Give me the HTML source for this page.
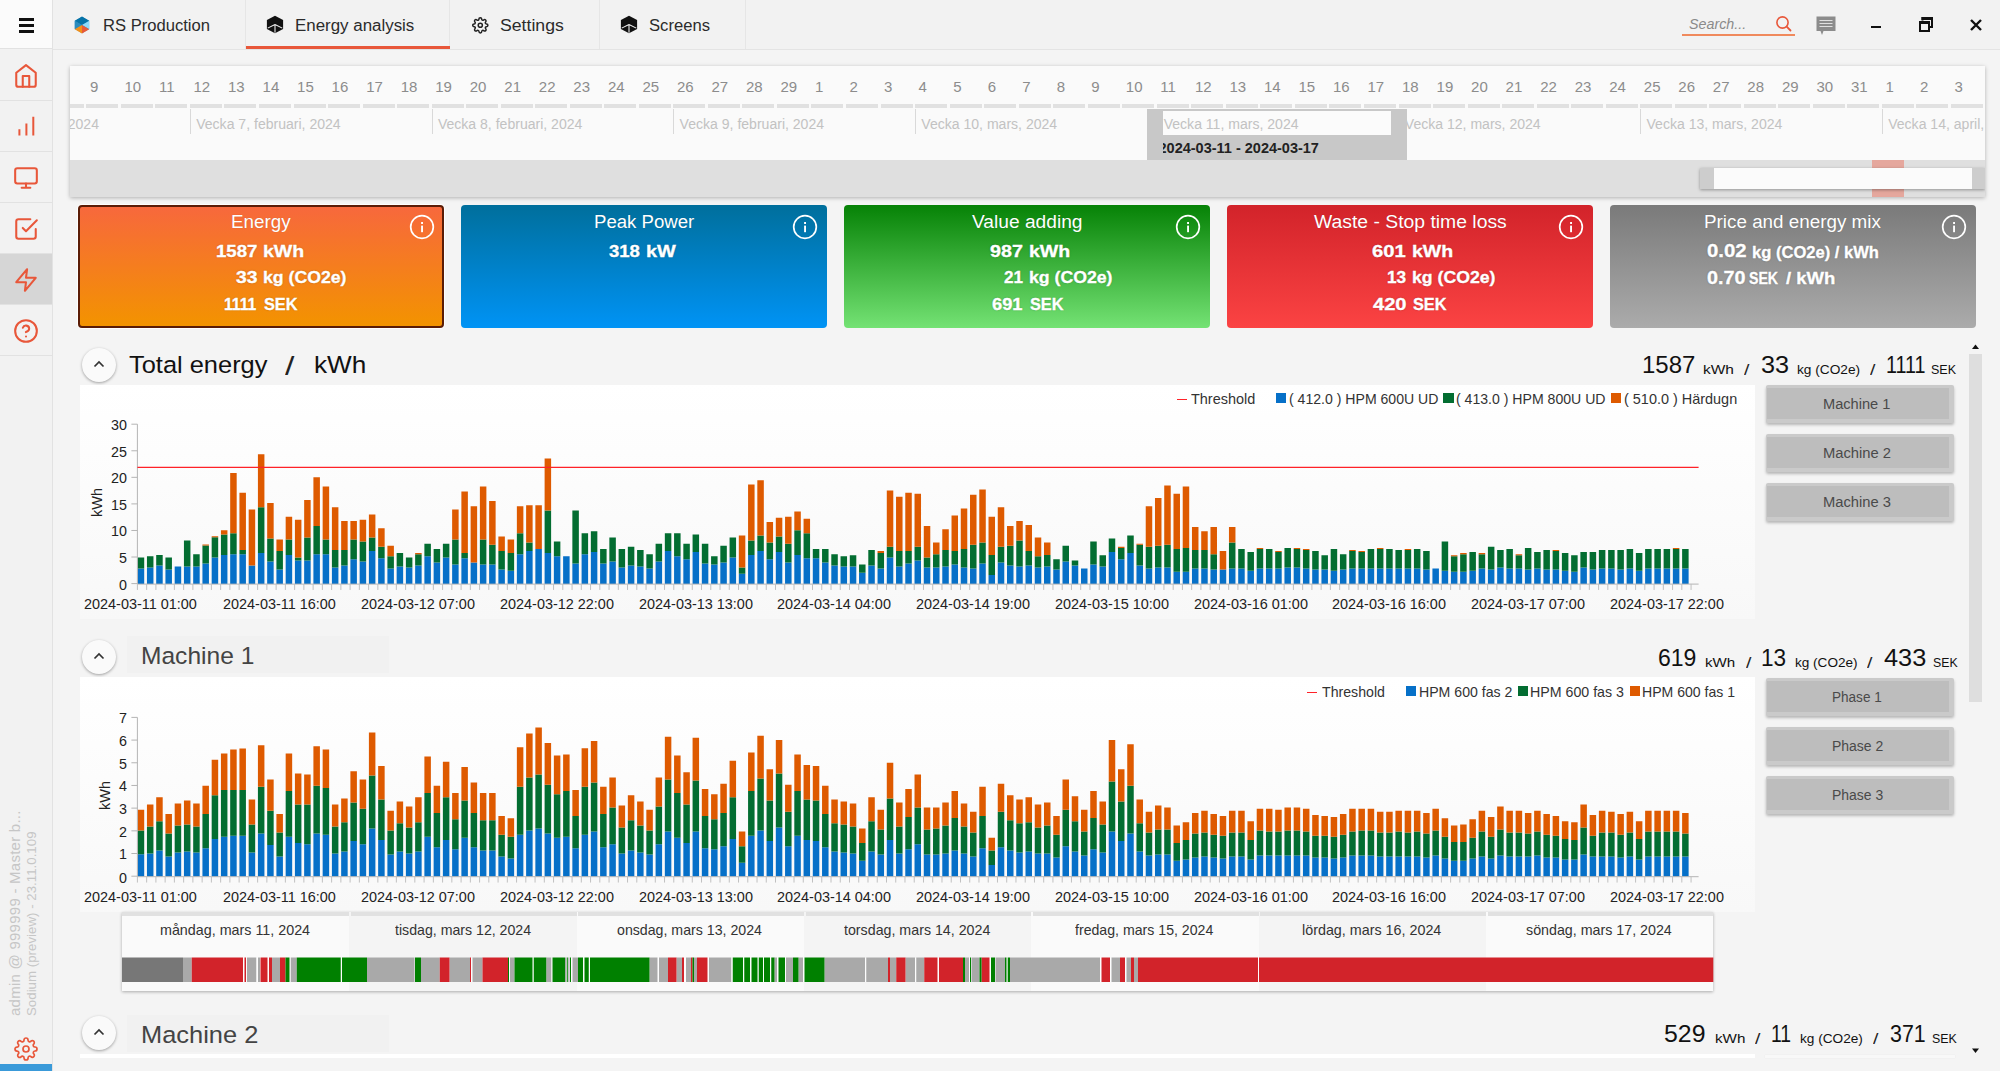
<!DOCTYPE html>
<html lang="sv"><head><meta charset="utf-8"><title>RS Production - Energy analysis</title>
<style>
*{box-sizing:border-box;margin:0;padding:0}
html,body{width:2000px;height:1071px;overflow:hidden}
body{background:#f4f4f4;font-family:"Liberation Sans",sans-serif;color:#222;position:relative}
.abs{position:absolute}
.t{position:absolute;white-space:nowrap;line-height:1}
.c{transform:translateX(-50%)}
.r{transform:translateX(-100%)}
svg{position:absolute;overflow:visible}
svg text{font-family:"Liberation Sans",sans-serif}
.tab{position:absolute;top:0;height:49px;border-right:1px solid #e6e6e6}
.tab .t{top:16px;font-size:17.5px;color:#222}
.sb{position:absolute;left:0;width:52px;height:51px;border-bottom:1px solid #e2e2e2}
.card{position:absolute;top:205px;height:123px;border-radius:4px;color:#fff}
.card .ti{position:absolute;left:0;right:0;top:7px;text-align:center;font-size:19.5px;line-height:1;white-space:nowrap}
.card .v{position:absolute;font-size:17.5px;font-weight:bold;line-height:1;white-space:nowrap;text-shadow:0 0 2px rgba(0,0,0,.35)}
.btn{position:absolute;left:1765.6px;width:188.4px;height:38px;background:#bdbdbd;border:5px solid #cacaca;border-top-width:3px;border-bottom-width:4px;border-left-width:1px;box-shadow:0 2px 3px rgba(0,0,0,.25);text-align:center;font-size:15.5px;color:#444;line-height:29px;border-radius:2px}
.panel{position:absolute;left:80px;width:1675px;background:linear-gradient(#ffffff,#f8f8f8)}
.circ{position:absolute;width:34px;height:34px;border-radius:17px;background:#fafafa;box-shadow:0 1px 3px rgba(0,0,0,.35)}
.big{font-size:27px}
.unit{font-size:15.5px}
</style></head><body>
<div class="abs" style="left:0;top:0;width:2000px;height:50px;background:#f2f2f2;border-bottom:1px solid #e4e4e4"></div>
<div class="tab" style="left:53px;width:193px"></div>
<div class="tab" style="left:246px;width:204px"></div>
<div class="tab" style="left:450px;width:150px"></div>
<div class="tab" style="left:600px;width:146px"></div>
<div class="abs" style="left:246px;top:46px;width:204px;height:3.4px;background:#e8573a"></div>
<svg style="left:74px;top:16px" width="16" height="18" viewBox="-8 -9 16 18"><path d="M0 -8.2 L7.1 -4.1 L7.1 4.1 L0 8.2 L-7.1 4.1 L-7.1 -4.1Z" fill="#2b8cbe"/><path d="M0 -8.4 L7.3 -4.2 L0 0.1 L-7.3 -4.2Z" fill="#0673a8"/><path d="M-7.3 -4.2 L0 0.1 L-7.3 4.2Z" fill="#2b8cbe"/><path d="M7.3 -4.2 L0 0.1 L7.3 4.2Z" fill="#8edaf9"/><path d="M0 0.1 L-7.3 4.2 L0 8.4Z" fill="#f39019"/><path d="M0 0.1 L7.3 4.2 L0 8.4Z" fill="#e95a38"/></svg>
<div class="t" style="left:102.87px;top:18.36px;font-size:16px;color:#2b2b2b;transform-origin:0 0;transform:scaleX(1.0369);">RS Production</div>
<svg style="left:265.7px;top:15.399999999999999px" width="18" height="19" viewBox="-9 -9.5 18 19"><path d="M0 -8.7 L8.1 -4.4 L8.1 4.4 L0 8.7 L-8.1 4.4 L-8.1 -4.4 Z" fill="#111"/><path d="M0 0 L0 8.2 M0 0 L-7.3 3.6 M0 0 L7.3 3.6" stroke="#f2f2f2" stroke-width="1.05" fill="none"/></svg>
<div class="t" style="left:294.95px;top:18.36px;font-size:16px;color:#2b2b2b;transform-origin:0 0;transform:scaleX(1.0565);">Energy analysis</div>
<svg style="left:471.5px;top:16.7px" width="16.6" height="16.6" viewBox="0 0 24 24" fill="none" stroke="#222" stroke-width="2.17" stroke-linecap="round" stroke-linejoin="round"><circle cx="12" cy="12" r="3"/><path d="M19.4 15a1.65 1.65 0 0 0 .33 1.82l.06.06a2 2 0 0 1 0 2.83 2 2 0 0 1-2.83 0l-.06-.06a1.65 1.65 0 0 0-1.82-.33 1.65 1.65 0 0 0-1 1.51V21a2 2 0 0 1-2 2 2 2 0 0 1-2-2v-.09A1.65 1.65 0 0 0 9 19.4a1.65 1.65 0 0 0-1.82.33l-.06.06a2 2 0 0 1-2.83 0 2 2 0 0 1 0-2.83l.06-.06a1.65 1.65 0 0 0 .33-1.82 1.65 1.65 0 0 0-1.51-1H3a2 2 0 0 1-2-2 2 2 0 0 1 2-2h.09A1.65 1.65 0 0 0 4.6 9a1.65 1.65 0 0 0-.33-1.82l-.06-.06a2 2 0 0 1 0-2.83 2 2 0 0 1 2.83 0l.06.06a1.65 1.65 0 0 0 1.82.33H9a1.65 1.65 0 0 0 1-1.51V3a2 2 0 0 1 2-2 2 2 0 0 1 2 2v.09a1.65 1.65 0 0 0 1 1.51 1.65 1.65 0 0 0 1.82-.33l.06-.06a2 2 0 0 1 2.83 0 2 2 0 0 1 0 2.83l-.06.06a1.65 1.65 0 0 0-.33 1.82V9a1.65 1.65 0 0 0 1.51 1H21a2 2 0 0 1 2 2 2 2 0 0 1-2 2h-.09a1.65 1.65 0 0 0-1.51 1z"/></svg>
<div class="t" style="left:500.01px;top:18.36px;font-size:16px;color:#2b2b2b;transform-origin:0 0;transform:scaleX(1.1040);">Settings</div>
<svg style="left:619.7px;top:15.399999999999999px" width="18" height="19" viewBox="-9 -9.5 18 19"><path d="M0 -8.7 L8.1 -4.4 L8.1 4.4 L0 8.7 L-8.1 4.4 L-8.1 -4.4 Z" fill="#111"/><path d="M0 0 L0 8.2 M0 0 L-7.3 3.6 M0 0 L7.3 3.6" stroke="#f2f2f2" stroke-width="1.05" fill="none"/></svg>
<div class="t" style="left:649.25px;top:18.36px;font-size:16px;color:#2b2b2b;transform-origin:0 0;transform:scaleX(1.0383);">Screens</div>
<div class="t" style="left:1689.11px;top:15.70px;font-size:15px;font-style:italic;color:#8a8a8a;transform-origin:0 0;transform:scaleX(0.9511);">Search...</div>
<div class="abs" style="left:1682px;top:34px;width:113px;height:1.5px;background:#f08a5d"></div>
<svg style="left:1775px;top:15px" width="18" height="18" viewBox="0 0 18 18"><circle cx="7.5" cy="7.5" r="5.6" fill="none" stroke="#e8573a" stroke-width="1.6"/><path d="M11.7 11.7 L15.5 15.5" stroke="#e8573a" stroke-width="1.8" stroke-linecap="round"/></svg>
<svg style="left:1816px;top:16px" width="20" height="20" viewBox="0 0 20 20"><path d="M0.5 0.5 H19.5 V15 H7.5 L6 19 L4.5 15 H0.5Z" fill="#8c8c8c"/><path d="M3.5 4.5 H16.5 M3.5 7.5 H16.5 M3.5 10.5 H16.5" stroke="#e0e0e0" stroke-width="1"/></svg>
<div class="abs" style="left:1870.5px;top:26px;width:10.5px;height:2.1px;background:#111"></div>
<svg style="left:1919px;top:17px" width="14" height="15" viewBox="0 0 14 15"><path d="M3.5 3.5 V1 H13 V10 H10.5" fill="none" stroke="#111" stroke-width="2"/><rect x="1" y="5" width="9" height="9" fill="none" stroke="#111" stroke-width="2"/><rect x="0" y="4" width="11" height="3" fill="#111"/><rect x="2.5" y="0" width="11.5" height="3" fill="#111"/></svg>
<svg style="left:1970px;top:19px" width="12" height="12" viewBox="0 0 12 12"><path d="M1 1 L11 11 M11 1 L1 11" stroke="#111" stroke-width="2.4"/></svg>
<div class="abs" style="left:0;top:0;width:53px;height:1071px;background:#f2f2f2;border-right:1px solid #e2e2e2"></div>
<div class="abs" style="left:0;top:0;width:52px;height:49px;background:#fbfbfb;border-bottom:1px solid #e2e2e2"></div>
<div class="abs" style="left:19px;top:18px;width:15px;height:3px;background:#111"></div>
<div class="abs" style="left:19px;top:24px;width:15px;height:3px;background:#111"></div>
<div class="abs" style="left:19px;top:30px;width:15px;height:3px;background:#111"></div>
<div class="sb" style="top:50px;"></div>
<div class="sb" style="top:101px;"></div>
<div class="sb" style="top:152px;"></div>
<div class="sb" style="top:203px;"></div>
<div class="sb" style="top:254px;background:#d6d6d6;"></div>
<div class="sb" style="top:305px;"></div>
<svg style="left:13px;top:62.5px" width="26" height="26" viewBox="0 0 24 24" fill="none" stroke="#e8573a" stroke-width="1.9" stroke-linecap="round" stroke-linejoin="round"><path d="M3 9l9-7 9 7v11a2 2 0 0 1-2 2H5a2 2 0 0 1-2-2z"/><path d="M9 22V12h6v10"/></svg>
<svg style="left:0;top:0" width="52" height="160" viewBox="0 0 52 160"><path d="M19.4 135.6V129.2M26.4 135.6V123.6M33.3 135.6V116.8" stroke="#e8573a" stroke-width="2" fill="none"/></svg>
<svg style="left:13px;top:164.5px" width="26" height="26" viewBox="0 0 24 24" fill="none" stroke="#e8573a" stroke-width="1.9" stroke-linecap="round" stroke-linejoin="round"><rect x="2" y="3" width="20" height="14" rx="2"/><path d="M8 21h8M12 17v4"/></svg>
<svg style="left:13px;top:215.5px" width="26" height="26" viewBox="0 0 24 24" fill="none" stroke="#e8573a" stroke-width="1.9" stroke-linecap="round" stroke-linejoin="round"><path d="M9 11l3 3L22 4"/><path d="M21 12v7a2 2 0 0 1-2 2H5a2 2 0 0 1-2-2V5a2 2 0 0 1 2-2h11"/></svg>
<svg style="left:13px;top:266.5px" width="26" height="26" viewBox="0 0 24 24" fill="none" stroke="#e8573a" stroke-width="1.9" stroke-linecap="round" stroke-linejoin="round"><path d="M13 2L3 14h9l-1 8 10-12h-9l1-8z"/></svg>
<svg style="left:13px;top:317.5px" width="26" height="26" viewBox="0 0 24 24" fill="none" stroke="#e8573a" stroke-width="1.9" stroke-linecap="round" stroke-linejoin="round"><circle cx="12" cy="12" r="10"/><path d="M9.09 9a3 3 0 0 1 5.83 1c0 2-3 3-3 3"/><path d="M12 17h.01"/></svg>
<div class="t" style="left:6.5px;top:1016px;font-size:15px;color:#c6c6c6;transform-origin:0 0;transform:rotate(-90deg);letter-spacing:.25px">admin @ 999999 - Master b...</div>
<div class="t" style="left:24.5px;top:1016px;font-size:13.3px;color:#c6c6c6;transform-origin:0 0;transform:rotate(-90deg)">Sodium (preview) - 23.11.0.109</div>
<svg style="left:14px;top:1037px" width="24" height="24" viewBox="0 0 24 24" fill="none" stroke="#e8573a" stroke-width="1.70" stroke-linecap="round" stroke-linejoin="round"><circle cx="12" cy="12" r="3"/><path d="M19.4 15a1.65 1.65 0 0 0 .33 1.82l.06.06a2 2 0 0 1 0 2.83 2 2 0 0 1-2.83 0l-.06-.06a1.65 1.65 0 0 0-1.82-.33 1.65 1.65 0 0 0-1 1.51V21a2 2 0 0 1-2 2 2 2 0 0 1-2-2v-.09A1.65 1.65 0 0 0 9 19.4a1.65 1.65 0 0 0-1.82.33l-.06.06a2 2 0 0 1-2.83 0 2 2 0 0 1 0-2.83l.06-.06a1.65 1.65 0 0 0 .33-1.82 1.65 1.65 0 0 0-1.51-1H3a2 2 0 0 1-2-2 2 2 0 0 1 2-2h.09A1.65 1.65 0 0 0 4.6 9a1.65 1.65 0 0 0-.33-1.82l-.06-.06a2 2 0 0 1 0-2.83 2 2 0 0 1 2.83 0l.06.06a1.65 1.65 0 0 0 1.82.33H9a1.65 1.65 0 0 0 1-1.51V3a2 2 0 0 1 2-2 2 2 0 0 1 2 2v.09a1.65 1.65 0 0 0 1 1.51 1.65 1.65 0 0 0 1.82-.33l.06-.06a2 2 0 0 1 2.83 0 2 2 0 0 1 0 2.83l-.06.06a1.65 1.65 0 0 0-.33 1.82V9a1.65 1.65 0 0 0 1.51 1H21a2 2 0 0 1 2 2 2 2 0 0 1-2 2h-.09a1.65 1.65 0 0 0-1.51 1z"/></svg>
<div class="abs" style="left:0;top:1064px;width:52px;height:7px;background:#3a9ad9"></div>
<div class="abs" style="left:70px;top:66px;width:1915px;height:131px;background:#fafafa;box-shadow:0 1px 4px rgba(0,0,0,.28);overflow:hidden">
<div class="t" style="left:19.9px;top:13px;font-size:15px;color:#8c8c8c">9</div>
<div class="abs" style="left:16.3px;top:38.3px;width:32px;height:4px;background:#e1e1e1"></div>
<div class="t" style="left:54.4px;top:13px;font-size:15px;color:#8c8c8c">10</div>
<div class="abs" style="left:50.8px;top:38.3px;width:32px;height:4px;background:#e1e1e1"></div>
<div class="t" style="left:89.0px;top:13px;font-size:15px;color:#8c8c8c">11</div>
<div class="abs" style="left:85.4px;top:38.3px;width:32px;height:4px;background:#e1e1e1"></div>
<div class="t" style="left:123.5px;top:13px;font-size:15px;color:#8c8c8c">12</div>
<div class="abs" style="left:119.9px;top:38.3px;width:32px;height:4px;background:#e1e1e1"></div>
<div class="t" style="left:158.0px;top:13px;font-size:15px;color:#8c8c8c">13</div>
<div class="abs" style="left:154.4px;top:38.3px;width:32px;height:4px;background:#e1e1e1"></div>
<div class="t" style="left:192.6px;top:13px;font-size:15px;color:#8c8c8c">14</div>
<div class="abs" style="left:189.0px;top:38.3px;width:32px;height:4px;background:#e1e1e1"></div>
<div class="t" style="left:227.1px;top:13px;font-size:15px;color:#8c8c8c">15</div>
<div class="abs" style="left:223.5px;top:38.3px;width:32px;height:4px;background:#e1e1e1"></div>
<div class="t" style="left:261.6px;top:13px;font-size:15px;color:#8c8c8c">16</div>
<div class="abs" style="left:258.0px;top:38.3px;width:32px;height:4px;background:#e1e1e1"></div>
<div class="t" style="left:296.2px;top:13px;font-size:15px;color:#8c8c8c">17</div>
<div class="abs" style="left:292.6px;top:38.3px;width:32px;height:4px;background:#e1e1e1"></div>
<div class="t" style="left:330.7px;top:13px;font-size:15px;color:#8c8c8c">18</div>
<div class="abs" style="left:327.1px;top:38.3px;width:32px;height:4px;background:#e1e1e1"></div>
<div class="t" style="left:365.2px;top:13px;font-size:15px;color:#8c8c8c">19</div>
<div class="abs" style="left:361.6px;top:38.3px;width:32px;height:4px;background:#e1e1e1"></div>
<div class="t" style="left:399.7px;top:13px;font-size:15px;color:#8c8c8c">20</div>
<div class="abs" style="left:396.1px;top:38.3px;width:32px;height:4px;background:#e1e1e1"></div>
<div class="t" style="left:434.3px;top:13px;font-size:15px;color:#8c8c8c">21</div>
<div class="abs" style="left:430.7px;top:38.3px;width:32px;height:4px;background:#e1e1e1"></div>
<div class="t" style="left:468.8px;top:13px;font-size:15px;color:#8c8c8c">22</div>
<div class="abs" style="left:465.2px;top:38.3px;width:32px;height:4px;background:#e1e1e1"></div>
<div class="t" style="left:503.3px;top:13px;font-size:15px;color:#8c8c8c">23</div>
<div class="abs" style="left:499.7px;top:38.3px;width:32px;height:4px;background:#e1e1e1"></div>
<div class="t" style="left:537.9px;top:13px;font-size:15px;color:#8c8c8c">24</div>
<div class="abs" style="left:534.3px;top:38.3px;width:32px;height:4px;background:#e1e1e1"></div>
<div class="t" style="left:572.4px;top:13px;font-size:15px;color:#8c8c8c">25</div>
<div class="abs" style="left:568.8px;top:38.3px;width:32px;height:4px;background:#e1e1e1"></div>
<div class="t" style="left:606.9px;top:13px;font-size:15px;color:#8c8c8c">26</div>
<div class="abs" style="left:603.3px;top:38.3px;width:32px;height:4px;background:#e1e1e1"></div>
<div class="t" style="left:641.4px;top:13px;font-size:15px;color:#8c8c8c">27</div>
<div class="abs" style="left:637.8px;top:38.3px;width:32px;height:4px;background:#e1e1e1"></div>
<div class="t" style="left:676.0px;top:13px;font-size:15px;color:#8c8c8c">28</div>
<div class="abs" style="left:672.4px;top:38.3px;width:32px;height:4px;background:#e1e1e1"></div>
<div class="t" style="left:710.5px;top:13px;font-size:15px;color:#8c8c8c">29</div>
<div class="abs" style="left:706.9px;top:38.3px;width:32px;height:4px;background:#e1e1e1"></div>
<div class="t" style="left:745.0px;top:13px;font-size:15px;color:#8c8c8c">1</div>
<div class="abs" style="left:741.4px;top:38.3px;width:32px;height:4px;background:#e1e1e1"></div>
<div class="t" style="left:779.6px;top:13px;font-size:15px;color:#8c8c8c">2</div>
<div class="abs" style="left:776.0px;top:38.3px;width:32px;height:4px;background:#e1e1e1"></div>
<div class="t" style="left:814.1px;top:13px;font-size:15px;color:#8c8c8c">3</div>
<div class="abs" style="left:810.5px;top:38.3px;width:32px;height:4px;background:#e1e1e1"></div>
<div class="t" style="left:848.6px;top:13px;font-size:15px;color:#8c8c8c">4</div>
<div class="abs" style="left:845.0px;top:38.3px;width:32px;height:4px;background:#e1e1e1"></div>
<div class="t" style="left:883.2px;top:13px;font-size:15px;color:#8c8c8c">5</div>
<div class="abs" style="left:879.6px;top:38.3px;width:32px;height:4px;background:#e1e1e1"></div>
<div class="t" style="left:917.7px;top:13px;font-size:15px;color:#8c8c8c">6</div>
<div class="abs" style="left:914.1px;top:38.3px;width:32px;height:4px;background:#e1e1e1"></div>
<div class="t" style="left:952.2px;top:13px;font-size:15px;color:#8c8c8c">7</div>
<div class="abs" style="left:948.6px;top:38.3px;width:32px;height:4px;background:#e1e1e1"></div>
<div class="t" style="left:986.8px;top:13px;font-size:15px;color:#8c8c8c">8</div>
<div class="abs" style="left:983.2px;top:38.3px;width:32px;height:4px;background:#e1e1e1"></div>
<div class="t" style="left:1021.3px;top:13px;font-size:15px;color:#8c8c8c">9</div>
<div class="abs" style="left:1017.7px;top:38.3px;width:32px;height:4px;background:#e1e1e1"></div>
<div class="t" style="left:1055.8px;top:13px;font-size:15px;color:#8c8c8c">10</div>
<div class="abs" style="left:1052.2px;top:38.3px;width:32px;height:4px;background:#e1e1e1"></div>
<div class="t" style="left:1090.3px;top:13px;font-size:15px;color:#8c8c8c">11</div>
<div class="abs" style="left:1086.7px;top:38.3px;width:32px;height:4px;background:#e1e1e1"></div>
<div class="t" style="left:1124.9px;top:13px;font-size:15px;color:#8c8c8c">12</div>
<div class="abs" style="left:1121.3px;top:38.3px;width:32px;height:4px;background:#e1e1e1"></div>
<div class="t" style="left:1159.4px;top:13px;font-size:15px;color:#8c8c8c">13</div>
<div class="abs" style="left:1155.8px;top:38.3px;width:32px;height:4px;background:#e1e1e1"></div>
<div class="t" style="left:1193.9px;top:13px;font-size:15px;color:#8c8c8c">14</div>
<div class="abs" style="left:1190.3px;top:38.3px;width:32px;height:4px;background:#e1e1e1"></div>
<div class="t" style="left:1228.5px;top:13px;font-size:15px;color:#8c8c8c">15</div>
<div class="abs" style="left:1224.9px;top:38.3px;width:32px;height:4px;background:#e1e1e1"></div>
<div class="t" style="left:1263.0px;top:13px;font-size:15px;color:#8c8c8c">16</div>
<div class="abs" style="left:1259.4px;top:38.3px;width:32px;height:4px;background:#e1e1e1"></div>
<div class="t" style="left:1297.5px;top:13px;font-size:15px;color:#8c8c8c">17</div>
<div class="abs" style="left:1293.9px;top:38.3px;width:32px;height:4px;background:#e1e1e1"></div>
<div class="t" style="left:1332.0px;top:13px;font-size:15px;color:#8c8c8c">18</div>
<div class="abs" style="left:1328.5px;top:38.3px;width:32px;height:4px;background:#e1e1e1"></div>
<div class="t" style="left:1366.6px;top:13px;font-size:15px;color:#8c8c8c">19</div>
<div class="abs" style="left:1363.0px;top:38.3px;width:32px;height:4px;background:#e1e1e1"></div>
<div class="t" style="left:1401.1px;top:13px;font-size:15px;color:#8c8c8c">20</div>
<div class="abs" style="left:1397.5px;top:38.3px;width:32px;height:4px;background:#e1e1e1"></div>
<div class="t" style="left:1435.6px;top:13px;font-size:15px;color:#8c8c8c">21</div>
<div class="abs" style="left:1432.0px;top:38.3px;width:32px;height:4px;background:#e1e1e1"></div>
<div class="t" style="left:1470.2px;top:13px;font-size:15px;color:#8c8c8c">22</div>
<div class="abs" style="left:1466.6px;top:38.3px;width:32px;height:4px;background:#e1e1e1"></div>
<div class="t" style="left:1504.7px;top:13px;font-size:15px;color:#8c8c8c">23</div>
<div class="abs" style="left:1501.1px;top:38.3px;width:32px;height:4px;background:#e1e1e1"></div>
<div class="t" style="left:1539.2px;top:13px;font-size:15px;color:#8c8c8c">24</div>
<div class="abs" style="left:1535.6px;top:38.3px;width:32px;height:4px;background:#e1e1e1"></div>
<div class="t" style="left:1573.8px;top:13px;font-size:15px;color:#8c8c8c">25</div>
<div class="abs" style="left:1570.2px;top:38.3px;width:32px;height:4px;background:#e1e1e1"></div>
<div class="t" style="left:1608.3px;top:13px;font-size:15px;color:#8c8c8c">26</div>
<div class="abs" style="left:1604.7px;top:38.3px;width:32px;height:4px;background:#e1e1e1"></div>
<div class="t" style="left:1642.8px;top:13px;font-size:15px;color:#8c8c8c">27</div>
<div class="abs" style="left:1639.2px;top:38.3px;width:32px;height:4px;background:#e1e1e1"></div>
<div class="t" style="left:1677.3px;top:13px;font-size:15px;color:#8c8c8c">28</div>
<div class="abs" style="left:1673.8px;top:38.3px;width:32px;height:4px;background:#e1e1e1"></div>
<div class="t" style="left:1711.9px;top:13px;font-size:15px;color:#8c8c8c">29</div>
<div class="abs" style="left:1708.3px;top:38.3px;width:32px;height:4px;background:#e1e1e1"></div>
<div class="t" style="left:1746.4px;top:13px;font-size:15px;color:#8c8c8c">30</div>
<div class="abs" style="left:1742.8px;top:38.3px;width:32px;height:4px;background:#e1e1e1"></div>
<div class="t" style="left:1780.9px;top:13px;font-size:15px;color:#8c8c8c">31</div>
<div class="abs" style="left:1777.3px;top:38.3px;width:32px;height:4px;background:#e1e1e1"></div>
<div class="t" style="left:1815.5px;top:13px;font-size:15px;color:#8c8c8c">1</div>
<div class="abs" style="left:1811.9px;top:38.3px;width:32px;height:4px;background:#e1e1e1"></div>
<div class="t" style="left:1850.0px;top:13px;font-size:15px;color:#8c8c8c">2</div>
<div class="abs" style="left:1846.4px;top:38.3px;width:32px;height:4px;background:#e1e1e1"></div>
<div class="t" style="left:1884.5px;top:13px;font-size:15px;color:#8c8c8c">3</div>
<div class="abs" style="left:1880.9px;top:38.3px;width:32px;height:4px;background:#e1e1e1"></div>
<div class="t" style="left:1919.1px;top:13px;font-size:15px;color:#8c8c8c">4</div>
<div class="abs" style="left:1915.5px;top:38.3px;width:32px;height:4px;background:#e1e1e1"></div>
<div class="abs" style="left:0;top:38.3px;width:13.8px;height:4px;background:#e1e1e1"></div>
<div class="abs" style="left:-121.8px;top:42.5px;width:1px;height:25px;background:#d9d9d9"></div>
<div class="t" style="left:-115.5px;top:50.7px;font-size:14.05px;color:#c2c2c2">Vecka 6, februari, 2024</div>
<div class="abs" style="left:119.9px;top:42.5px;width:1px;height:25px;background:#d9d9d9"></div>
<div class="t" style="left:126.2px;top:50.7px;font-size:14.05px;color:#c2c2c2">Vecka 7, februari, 2024</div>
<div class="abs" style="left:361.6px;top:42.5px;width:1px;height:25px;background:#d9d9d9"></div>
<div class="t" style="left:367.9px;top:50.7px;font-size:14.05px;color:#c2c2c2">Vecka 8, februari, 2024</div>
<div class="abs" style="left:603.3px;top:42.5px;width:1px;height:25px;background:#d9d9d9"></div>
<div class="t" style="left:609.6px;top:50.7px;font-size:14.05px;color:#c2c2c2">Vecka 9, februari, 2024</div>
<div class="abs" style="left:845.0px;top:42.5px;width:1px;height:25px;background:#d9d9d9"></div>
<div class="t" style="left:851.3px;top:50.7px;font-size:14.05px;color:#c2c2c2">Vecka 10, mars, 2024</div>
<div class="abs" style="left:1086.7px;top:42.5px;width:1px;height:25px;background:#d9d9d9"></div>
<div class="t" style="left:1093.0px;top:50.7px;font-size:14.05px;color:#c2c2c2">Vecka 11, mars, 2024</div>
<div class="abs" style="left:1328.5px;top:42.5px;width:1px;height:25px;background:#d9d9d9"></div>
<div class="t" style="left:1334.8px;top:50.7px;font-size:14.05px;color:#c2c2c2">Vecka 12, mars, 2024</div>
<div class="abs" style="left:1570.2px;top:42.5px;width:1px;height:25px;background:#d9d9d9"></div>
<div class="t" style="left:1576.5px;top:50.7px;font-size:14.05px;color:#c2c2c2">Vecka 13, mars, 2024</div>
<div class="abs" style="left:1811.9px;top:42.5px;width:1px;height:25px;background:#d9d9d9"></div>
<div class="t" style="left:1818.2px;top:50.7px;font-size:14.05px;color:#c2c2c2">Vecka 14, april, 2024</div>
<div class="abs" style="left:1076.5px;top:43px;width:260.3px;height:51px;background:#c8c8c8"></div>
<div class="abs" style="left:1092.5px;top:45px;width:228.3px;height:23.5px;background:#fbfbfb;overflow:hidden"><div class="t" style="left:1.2px;top:5.7px;font-size:14.05px;color:#c2c2c2">Vecka 11, mars, 2024</div></div>
<div class="abs" style="left:1092.5px;top:72px;width:228px;height:22px;overflow:hidden"><div class="t" style="left:-4px;top:3px;font-size:14.5px;font-weight:bold;color:#222">2024-03-11 - 2024-03-17</div></div>
<div class="abs" style="left:0;top:93.5px;width:1915px;height:38px;background:#dfdfdf"></div>
<div class="abs" style="left:1802px;top:93.5px;width:32px;height:38px;background:#e5a79d"></div>
<div class="abs" style="left:1630px;top:101.5px;width:285px;height:21.5px;background:#cdcdcd;box-shadow:0 1px 3px rgba(0,0,0,.35)"></div>
<div class="abs" style="left:1643.5px;top:102px;width:258.5px;height:20.5px;background:#fbfbfb"></div>
</div>
<div class="card" style="left:78px;width:366px;background:linear-gradient(#f7683c,#f39300);border:2.8px solid #5a1c06;box-shadow:0 0 0 1px rgba(255,255,255,.9);"></div>
<div class="t" style="left:230.50px;top:213.26px;font-size:18px;color:#fff;transform-origin:0 0;transform:scaleX(1.0436);text-shadow:0 0 1px rgba(0,0,0,.2);">Energy</div>
<svg style="left:409.2px;top:214px" width="26" height="26" viewBox="0 0 26 26"><circle cx="13" cy="13" r="11.3" fill="none" stroke="#fff" stroke-width="1.7"/><rect x="12.1" y="11.6" width="1.9" height="6.6" fill="#fff"/><rect x="12.1" y="8" width="1.9" height="2" fill="#fff"/></svg>
<div class="t" style="left:215.84px;top:243.16px;font-size:17.3px;font-weight:bold;color:#fff;transform-origin:0 0;transform:scaleX(1.0755);text-shadow:0 0 2px rgba(0,0,0,.28);-webkit-text-stroke:0.35px #fff;">1587</div>
<div class="t" style="left:262.68px;top:243.16px;font-size:17.3px;font-weight:bold;color:#fff;transform-origin:0 0;transform:scaleX(1.1313);text-shadow:0 0 2px rgba(0,0,0,.28);-webkit-text-stroke:0.35px #fff;">kWh</div>
<div class="t" style="left:235.56px;top:269.16px;font-size:17.3px;font-weight:bold;color:#fff;transform-origin:0 0;transform:scaleX(1.1177);text-shadow:0 0 2px rgba(0,0,0,.28);-webkit-text-stroke:0.35px #fff;">33</div>
<div class="t" style="left:262.81px;top:269.16px;font-size:17.3px;font-weight:bold;color:#fff;transform-origin:0 0;transform:scaleX(1.0225);text-shadow:0 0 2px rgba(0,0,0,.28);-webkit-text-stroke:0.35px #fff;">kg (CO2e)</div>
<div class="t" style="left:224.42px;top:295.96px;font-size:17.3px;font-weight:bold;color:#fff;transform-origin:0 0;transform:scaleX(0.9096);text-shadow:0 0 2px rgba(0,0,0,.28);-webkit-text-stroke:0.35px #fff;">1111</div>
<div class="t" style="left:263.55px;top:295.96px;font-size:17.3px;font-weight:bold;color:#fff;transform-origin:0 0;transform:scaleX(0.9431);text-shadow:0 0 2px rgba(0,0,0,.28);-webkit-text-stroke:0.35px #fff;">SEK</div>
<div class="card" style="left:461px;width:366px;background:linear-gradient(#006f9c,#0093f5);"></div>
<div class="t" style="left:593.51px;top:213.26px;font-size:18px;color:#fff;transform-origin:0 0;transform:scaleX(1.0335);text-shadow:0 0 1px rgba(0,0,0,.2);">Peak Power</div>
<svg style="left:792.2px;top:214px" width="26" height="26" viewBox="0 0 26 26"><circle cx="13" cy="13" r="11.3" fill="none" stroke="#fff" stroke-width="1.7"/><rect x="12.1" y="11.6" width="1.9" height="6.6" fill="#fff"/><rect x="12.1" y="8" width="1.9" height="2" fill="#fff"/></svg>
<div class="t" style="left:608.98px;top:243.16px;font-size:17.3px;font-weight:bold;color:#fff;transform-origin:0 0;transform:scaleX(1.0721);text-shadow:0 0 2px rgba(0,0,0,.28);-webkit-text-stroke:0.35px #fff;">318</div>
<div class="t" style="left:645.66px;top:243.16px;font-size:17.3px;font-weight:bold;color:#fff;transform-origin:0 0;transform:scaleX(1.1500);text-shadow:0 0 2px rgba(0,0,0,.28);-webkit-text-stroke:0.35px #fff;">kW</div>
<div class="card" style="left:844px;width:366px;background:linear-gradient(#068206,#74e274);"></div>
<div class="t" style="left:972.35px;top:213.26px;font-size:18px;color:#fff;transform-origin:0 0;transform:scaleX(1.0648);text-shadow:0 0 1px rgba(0,0,0,.2);">Value adding</div>
<svg style="left:1175.2px;top:214px" width="26" height="26" viewBox="0 0 26 26"><circle cx="13" cy="13" r="11.3" fill="none" stroke="#fff" stroke-width="1.7"/><rect x="12.1" y="11.6" width="1.9" height="6.6" fill="#fff"/><rect x="12.1" y="8" width="1.9" height="2" fill="#fff"/></svg>
<div class="t" style="left:990.36px;top:243.16px;font-size:17.3px;font-weight:bold;color:#fff;transform-origin:0 0;transform:scaleX(1.1397);text-shadow:0 0 2px rgba(0,0,0,.28);-webkit-text-stroke:0.35px #fff;">987</div>
<div class="t" style="left:1028.68px;top:243.16px;font-size:17.3px;font-weight:bold;color:#fff;transform-origin:0 0;transform:scaleX(1.1313);text-shadow:0 0 2px rgba(0,0,0,.28);-webkit-text-stroke:0.35px #fff;">kWh</div>
<div class="t" style="left:1003.84px;top:269.16px;font-size:17.3px;font-weight:bold;color:#fff;transform-origin:0 0;transform:scaleX(0.9886);text-shadow:0 0 2px rgba(0,0,0,.28);-webkit-text-stroke:0.35px #fff;">21</div>
<div class="t" style="left:1028.81px;top:269.16px;font-size:17.3px;font-weight:bold;color:#fff;transform-origin:0 0;transform:scaleX(1.0225);text-shadow:0 0 2px rgba(0,0,0,.28);-webkit-text-stroke:0.35px #fff;">kg (CO2e)</div>
<div class="t" style="left:992.36px;top:295.96px;font-size:17.3px;font-weight:bold;color:#fff;transform-origin:0 0;transform:scaleX(1.0572);text-shadow:0 0 2px rgba(0,0,0,.28);-webkit-text-stroke:0.35px #fff;">691</div>
<div class="t" style="left:1029.55px;top:295.96px;font-size:17.3px;font-weight:bold;color:#fff;transform-origin:0 0;transform:scaleX(0.9431);text-shadow:0 0 2px rgba(0,0,0,.28);-webkit-text-stroke:0.35px #fff;">SEK</div>
<div class="card" style="left:1227px;width:366px;background:linear-gradient(#d2232a,#fb4343);"></div>
<div class="t" style="left:1313.95px;top:213.26px;font-size:18px;color:#fff;transform-origin:0 0;transform:scaleX(1.0745);text-shadow:0 0 1px rgba(0,0,0,.2);">Waste - Stop time loss</div>
<svg style="left:1558.2px;top:214px" width="26" height="26" viewBox="0 0 26 26"><circle cx="13" cy="13" r="11.3" fill="none" stroke="#fff" stroke-width="1.7"/><rect x="12.1" y="11.6" width="1.9" height="6.6" fill="#fff"/><rect x="12.1" y="8" width="1.9" height="2" fill="#fff"/></svg>
<div class="t" style="left:1372.19px;top:243.16px;font-size:17.3px;font-weight:bold;color:#fff;transform-origin:0 0;transform:scaleX(1.1687);text-shadow:0 0 2px rgba(0,0,0,.28);-webkit-text-stroke:0.35px #fff;">601</div>
<div class="t" style="left:1411.68px;top:243.16px;font-size:17.3px;font-weight:bold;color:#fff;transform-origin:0 0;transform:scaleX(1.1313);text-shadow:0 0 2px rgba(0,0,0,.28);-webkit-text-stroke:0.35px #fff;">kWh</div>
<div class="t" style="left:1386.82px;top:269.16px;font-size:17.3px;font-weight:bold;color:#fff;transform-origin:0 0;transform:scaleX(0.9966);text-shadow:0 0 2px rgba(0,0,0,.28);-webkit-text-stroke:0.35px #fff;">13</div>
<div class="t" style="left:1411.81px;top:269.16px;font-size:17.3px;font-weight:bold;color:#fff;transform-origin:0 0;transform:scaleX(1.0225);text-shadow:0 0 2px rgba(0,0,0,.28);-webkit-text-stroke:0.35px #fff;">kg (CO2e)</div>
<div class="t" style="left:1372.60px;top:295.96px;font-size:17.3px;font-weight:bold;color:#fff;transform-origin:0 0;transform:scaleX(1.1632);text-shadow:0 0 2px rgba(0,0,0,.28);-webkit-text-stroke:0.35px #fff;">420</div>
<div class="t" style="left:1412.55px;top:295.96px;font-size:17.3px;font-weight:bold;color:#fff;transform-origin:0 0;transform:scaleX(0.9431);text-shadow:0 0 2px rgba(0,0,0,.28);-webkit-text-stroke:0.35px #fff;">SEK</div>
<div class="card" style="left:1610px;width:366px;background:linear-gradient(#7a7a7a,#ababab);"></div>
<div class="t" style="left:1703.89px;top:213.26px;font-size:18px;color:#fff;transform-origin:0 0;transform:scaleX(1.0463);text-shadow:0 0 1px rgba(0,0,0,.2);">Price and energy mix</div>
<svg style="left:1941.2px;top:214px" width="26" height="26" viewBox="0 0 26 26"><circle cx="13" cy="13" r="11.3" fill="none" stroke="#fff" stroke-width="1.7"/><rect x="12.1" y="11.6" width="1.9" height="6.6" fill="#fff"/><rect x="12.1" y="8" width="1.9" height="2" fill="#fff"/></svg>
<div class="t" style="left:1706.64px;top:242.14px;font-size:18.5px;font-weight:bold;color:#fff;transform-origin:0 0;transform:scaleX(1.0984);text-shadow:0 0 2px rgba(0,0,0,.28);-webkit-text-stroke:0.35px #fff;">0.02</div>
<div class="t" style="left:1752.48px;top:243.83px;font-size:16.5px;font-weight:bold;color:#fff;transform-origin:0 0;transform:scaleX(1.0031);text-shadow:0 0 2px rgba(0,0,0,.28);-webkit-text-stroke:0.35px #fff;">kg (CO2e) / kWh</div>
<div class="t" style="left:1706.66px;top:268.74px;font-size:18.5px;font-weight:bold;color:#fff;transform-origin:0 0;transform:scaleX(1.0695);text-shadow:0 0 2px rgba(0,0,0,.28);-webkit-text-stroke:0.35px #fff;">0.70</div>
<div class="t" style="left:1748.61px;top:270.43px;font-size:16.5px;font-weight:bold;color:#fff;transform-origin:0 0;transform:scaleX(0.8570);text-shadow:0 0 2px rgba(0,0,0,.28);-webkit-text-stroke:0.35px #fff;">SEK</div>
<div class="t" style="left:1785.86px;top:270.43px;font-size:16.5px;font-weight:bold;color:#fff;transform-origin:0 0;transform:scaleX(1.1200);text-shadow:0 0 2px rgba(0,0,0,.28);-webkit-text-stroke:0.35px #fff;">/ kWh</div>
<div class="circ" style="left:82px;top:347.6px"></div><svg style="left:93px;top:360.1px" width="12" height="8" viewBox="0 0 12 8"><path d="M1.5 6.5 L6 2 L10.5 6.5" fill="none" stroke="#333" stroke-width="1.7"/></svg>
<div class="t" style="left:129.49px;top:354.34px;font-size:23.7px;color:#111;transform-origin:0 0;transform:scaleX(1.0728);">Total energy</div>
<div class="t" style="left:284.77px;top:353.29px;font-size:26px;color:#222;transform-origin:0 0;transform:scaleX(1.3000);">/</div>
<div class="t" style="left:314.30px;top:354.34px;font-size:23.7px;color:#111;transform-origin:0 0;transform:scaleX(1.1041);">kWh</div>
<div class="t" style="left:1641.80px;top:354.42px;font-size:23.6px;color:#111;transform-origin:0 0;transform:scaleX(1.0169);">1587</div>
<div class="t" style="left:1702.99px;top:363.06px;font-size:13.4px;color:#111;transform-origin:0 0;transform:scaleX(1.1558);">kWh</div>
<div class="t" style="left:1743.79px;top:362.08px;font-size:15.5px;color:#222;transform-origin:0 0;transform:scaleX(1.2500);">/</div>
<div class="t" style="left:1760.65px;top:354.42px;font-size:23.6px;color:#111;transform-origin:0 0;transform:scaleX(1.0696);">33</div>
<div class="t" style="left:1796.71px;top:363.06px;font-size:13.4px;color:#111;transform-origin:0 0;transform:scaleX(1.0211);">kg (CO2e)</div>
<div class="t" style="left:1869.99px;top:362.08px;font-size:15.5px;color:#222;transform-origin:0 0;transform:scaleX(1.2500);">/</div>
<div class="t" style="left:1885.52px;top:354.42px;font-size:23.6px;color:#111;transform-origin:0 0;transform:scaleX(0.8350);">1111</div>
<div class="t" style="left:1931.44px;top:363.06px;font-size:13.4px;color:#111;transform-origin:0 0;transform:scaleX(0.9350);">SEK</div>
<div class="panel" style="top:384.6px;height:234.2px"></div>
<svg style="left:0;top:0" width="2000" height="1071" viewBox="0 0 2000 1071" shape-rendering="auto">
<path d="M137.70 583.95H144.20V568.60H137.70ZM146.95 583.95H153.45V567.60H146.95ZM156.20 583.95H162.70V565.60H156.20ZM165.44 583.95H171.94V569.60H165.44ZM174.69 583.95H181.19V566.60H174.69ZM183.94 583.95H190.44V566.60H183.94ZM193.19 583.95H199.69V566.60H193.19ZM202.44 583.95H208.94V563.40H202.44ZM211.68 583.95H218.18V557.40H211.68ZM220.93 583.95H227.43V555.00H220.93ZM230.18 583.95H236.68V554.20H230.18ZM239.43 583.95H245.93V554.20H239.43ZM248.68 583.95H255.18V565.60H248.68ZM257.92 583.95H264.42V553.00H257.92ZM267.17 583.95H273.67V561.40H267.17ZM276.42 583.95H282.92V569.60H276.42ZM285.67 583.95H292.17V555.00H285.67ZM294.92 583.95H301.42V560.40H294.92ZM304.16 583.95H310.66V560.40H304.16ZM313.41 583.95H319.91V554.20H313.41ZM322.66 583.95H329.16V554.20H322.66ZM331.91 583.95H338.41V567.60H331.91ZM341.16 583.95H347.66V565.60H341.16ZM350.40 583.95H356.90V559.20H350.40ZM359.65 583.95H366.15V561.40H359.65ZM368.90 583.95H375.40V551.00H368.90ZM378.15 583.95H384.65V558.20H378.15ZM387.40 583.95H393.90V568.60H387.40ZM396.64 583.95H403.14V566.60H396.64ZM405.89 583.95H412.39V567.60H405.89ZM415.14 583.95H421.64V565.60H415.14ZM424.39 583.95H430.89V556.20H424.39ZM433.64 583.95H440.14V562.40H433.64ZM442.88 583.95H449.38V557.40H442.88ZM452.13 583.95H458.63V564.40H452.13ZM461.38 583.95H467.88V558.20H461.38ZM470.63 583.95H477.13V562.40H470.63ZM479.88 583.95H486.38V564.40H479.88ZM489.12 583.95H495.62V564.40H489.12ZM498.37 583.95H504.87V569.60H498.37ZM507.62 583.95H514.12V570.80H507.62ZM516.87 583.95H523.37V554.20H516.87ZM526.12 583.95H532.62V551.00H526.12ZM535.36 583.95H541.86V549.00H535.36ZM544.61 583.95H551.11V553.00H544.61ZM553.86 583.95H560.36V556.20H553.86ZM563.11 583.95H569.61V556.20H563.11ZM572.36 583.95H578.86V563.40H572.36ZM581.60 583.95H588.10V554.20H581.60ZM590.85 583.95H597.35V552.00H590.85ZM600.10 583.95H606.60V563.40H600.10ZM609.35 583.95H615.85V561.40H609.35ZM618.60 583.95H625.10V567.60H618.60ZM627.84 583.95H634.34V565.60H627.84ZM637.09 583.95H643.59V566.60H637.09ZM646.34 583.95H652.84V568.60H646.34ZM655.59 583.95H662.09V561.40H655.59ZM664.84 583.95H671.34V551.00H664.84ZM674.08 583.95H680.58V556.20H674.08ZM683.33 583.95H689.83V559.20H683.33ZM692.58 583.95H699.08V552.00H692.58ZM701.83 583.95H708.33V563.40H701.83ZM711.08 583.95H717.58V564.40H711.08ZM720.32 583.95H726.82V562.40H720.32ZM729.57 583.95H736.07V557.40H729.57ZM738.82 583.95H745.32V573.80H738.82ZM748.07 583.95H754.57V555.00H748.07ZM757.32 583.95H763.82V551.00H757.32ZM766.56 583.95H773.06V559.20H766.56ZM775.81 583.95H782.31V552.00H775.81ZM785.06 583.95H791.56V562.40H785.06ZM794.31 583.95H800.81V555.00H794.31ZM803.56 583.95H810.06V558.20H803.56ZM812.80 583.95H819.30V558.20H812.80ZM822.05 583.95H828.55V562.40H822.05ZM831.30 583.95H837.80V565.60H831.30ZM840.55 583.95H847.05V566.60H840.55ZM849.80 583.95H856.30V566.60H849.80ZM859.04 583.95H865.54V572.80H859.04ZM868.29 583.95H874.79V565.60H868.29ZM877.54 583.95H884.04V568.60H877.54ZM886.79 583.95H893.29V557.40H886.79ZM896.04 583.95H902.54V566.60H896.04ZM905.28 583.95H911.78V563.40H905.28ZM914.53 583.95H921.03V560.40H914.53ZM923.78 583.95H930.28V567.60H923.78ZM933.03 583.95H939.53V567.60H933.03ZM942.28 583.95H948.78V566.60H942.28ZM951.52 583.95H958.02V564.40H951.52ZM960.77 583.95H967.27V567.60H960.77ZM970.02 583.95H976.52V568.60H970.02ZM979.27 583.95H985.77V563.40H979.27ZM988.52 583.95H995.02V575.00H988.52ZM997.76 583.95H1004.26V562.40H997.76ZM1007.01 583.95H1013.51V565.60H1007.01ZM1016.26 583.95H1022.76V566.60H1016.26ZM1025.51 583.95H1032.01V565.60H1025.51ZM1034.76 583.95H1041.26V567.60H1034.76ZM1044.00 583.95H1050.50V566.60H1044.00ZM1053.25 583.95H1059.75V569.60H1053.25ZM1062.50 583.95H1069.00V561.40H1062.50ZM1071.75 583.95H1078.25V565.60H1071.75ZM1081.00 583.95H1087.50V568.60H1081.00ZM1090.24 583.95H1096.74V564.40H1090.24ZM1099.49 583.95H1105.99V566.60H1099.49ZM1108.74 583.95H1115.24V552.00H1108.74ZM1117.99 583.95H1124.49V559.20H1117.99ZM1127.24 583.95H1133.74V553.00H1127.24ZM1136.48 583.95H1142.98V565.60H1136.48ZM1145.73 583.95H1152.23V568.60H1145.73ZM1154.98 583.95H1161.48V567.60H1154.98ZM1164.23 583.95H1170.73V567.60H1164.23ZM1173.48 583.95H1179.98V571.80H1173.48ZM1182.72 583.95H1189.22V571.80H1182.72ZM1191.97 583.95H1198.47V568.60H1191.97ZM1201.22 583.95H1207.72V568.60H1201.22ZM1210.47 583.95H1216.97V569.60H1210.47ZM1219.72 583.95H1226.22V569.60H1219.72ZM1228.96 583.95H1235.46V568.60H1228.96ZM1238.21 583.95H1244.71V568.60H1238.21ZM1247.46 583.95H1253.96V570.80H1247.46ZM1256.71 583.95H1263.21V568.60H1256.71ZM1265.96 583.95H1272.46V568.60H1265.96ZM1275.20 583.95H1281.70V568.60H1275.20ZM1284.45 583.95H1290.95V567.60H1284.45ZM1293.70 583.95H1300.20V567.60H1293.70ZM1302.95 583.95H1309.45V568.60H1302.95ZM1312.20 583.95H1318.70V569.60H1312.20ZM1321.44 583.95H1327.94V569.60H1321.44ZM1330.69 583.95H1337.19V570.80H1330.69ZM1339.94 583.95H1346.44V569.60H1339.94ZM1349.19 583.95H1355.69V568.60H1349.19ZM1358.44 583.95H1364.94V568.60H1358.44ZM1367.68 583.95H1374.18V568.60H1367.68ZM1376.93 583.95H1383.43V568.60H1376.93ZM1386.18 583.95H1392.68V568.60H1386.18ZM1395.43 583.95H1401.93V568.60H1395.43ZM1404.68 583.95H1411.18V568.60H1404.68ZM1413.92 583.95H1420.42V568.60H1413.92ZM1423.17 583.95H1429.67V569.60H1423.17ZM1432.42 583.95H1438.92V568.60H1432.42ZM1441.67 583.95H1448.17V570.80H1441.67ZM1450.92 583.95H1457.42V571.80H1450.92ZM1460.16 583.95H1466.66V571.80H1460.16ZM1469.41 583.95H1475.91V570.80H1469.41ZM1478.66 583.95H1485.16V568.60H1478.66ZM1487.91 583.95H1494.41V569.60H1487.91ZM1497.16 583.95H1503.66V567.60H1497.16ZM1506.40 583.95H1512.90V568.60H1506.40ZM1515.65 583.95H1522.15V568.60H1515.65ZM1524.90 583.95H1531.40V569.60H1524.90ZM1534.15 583.95H1540.65V568.60H1534.15ZM1543.40 583.95H1549.90V569.60H1543.40ZM1552.64 583.95H1559.14V569.60H1552.64ZM1561.89 583.95H1568.39V570.80H1561.89ZM1571.14 583.95H1577.64V571.80H1571.14ZM1580.39 583.95H1586.89V567.60H1580.39ZM1589.64 583.95H1596.14V569.60H1589.64ZM1598.88 583.95H1605.38V568.60H1598.88ZM1608.13 583.95H1614.63V568.60H1608.13ZM1617.38 583.95H1623.88V569.60H1617.38ZM1626.63 583.95H1633.13V568.60H1626.63ZM1635.88 583.95H1642.38V570.80H1635.88ZM1645.12 583.95H1651.62V568.60H1645.12ZM1654.37 583.95H1660.87V568.60H1654.37ZM1663.62 583.95H1670.12V568.60H1663.62ZM1672.87 583.95H1679.37V568.60H1672.87ZM1682.12 583.95H1688.62V568.60H1682.12Z" fill="#0670c8"/>
<path d="M137.70 568.60H144.20V557.40H137.70ZM146.95 567.60H153.45V556.20H146.95ZM156.20 565.60H162.70V555.00H156.20ZM165.44 569.60H171.94V557.40H165.44ZM183.94 566.60H190.44V540.60H183.94ZM193.19 566.60H199.69V554.20H193.19ZM202.44 563.40H208.94V545.60H202.44ZM211.68 557.40H218.18V537.20H211.68ZM220.93 555.00H227.43V534.40H220.93ZM230.18 554.20H236.68V533.20H230.18ZM239.43 554.20H245.93V550.00H239.43ZM257.92 553.00H264.42V507.20H257.92ZM267.17 561.40H273.67V538.40H267.17ZM276.42 569.60H282.92V551.00H276.42ZM285.67 555.00H292.17V539.60H285.67ZM294.92 560.40H301.42V557.40H294.92ZM304.16 560.40H310.66V537.40H304.16ZM313.41 554.20H319.91V526.00H313.41ZM322.66 554.20H329.16V539.60H322.66ZM331.91 567.60H338.41V550.00H331.91ZM341.16 565.60H347.66V550.00H341.16ZM350.40 559.20H356.90V539.60H350.40ZM359.65 561.40H366.15V541.60H359.65ZM368.90 551.00H375.40V537.40H368.90ZM378.15 558.20H384.65V546.80H378.15ZM387.40 568.60H393.90V556.20H387.40ZM396.64 566.60H403.14V553.00H396.64ZM405.89 567.60H412.39V557.40H405.89ZM415.14 565.60H421.64V554.20H415.14ZM424.39 556.20H430.89V543.80H424.39ZM433.64 562.40H440.14V549.00H433.64ZM442.88 557.40H449.38V543.80H442.88ZM452.13 564.40H458.63V539.60H452.13ZM461.38 558.20H467.88V553.00H461.38ZM479.88 564.40H486.38V539.60H479.88ZM489.12 564.40H495.62V544.80H489.12ZM498.37 569.60H504.87V551.00H498.37ZM507.62 570.80H514.12V553.00H507.62ZM516.87 554.20H523.37V533.20H516.87ZM526.12 551.00H532.62V542.60H526.12ZM544.61 553.00H551.11V510.40H544.61ZM553.86 556.20H560.36V541.60H553.86ZM572.36 563.40H578.86V510.40H572.36ZM581.60 554.20H588.10V533.20H581.60ZM590.85 552.00H597.35V531.20H590.85ZM600.10 563.40H606.60V549.00H600.10ZM609.35 561.40H615.85V537.40H609.35ZM618.60 567.60H625.10V549.00H618.60ZM627.84 565.60H634.34V546.80H627.84ZM637.09 566.60H643.59V550.00H637.09ZM646.34 568.60H652.84V554.20H646.34ZM655.59 561.40H662.09V543.80H655.59ZM664.84 551.00H671.34V533.20H664.84ZM674.08 556.20H680.58V533.20H674.08ZM683.33 559.20H689.83V543.80H683.33ZM692.58 552.00H699.08V534.40H692.58ZM701.83 563.40H708.33V543.80H701.83ZM711.08 564.40H717.58V556.20H711.08ZM720.32 562.40H726.82V545.80H720.32ZM729.57 557.40H736.07V537.40H729.57ZM738.82 573.80H745.32V567.60H738.82ZM748.07 555.00H754.57V540.60H748.07ZM757.32 551.00H763.82V535.40H757.32ZM766.56 559.20H773.06V542.60H766.56ZM775.81 552.00H782.31V536.40H775.81ZM785.06 562.40H791.56V543.80H785.06ZM794.31 555.00H800.81V530.20H794.31ZM803.56 558.20H810.06V533.20H803.56ZM812.80 558.20H819.30V549.00H812.80ZM822.05 562.40H828.55V549.00H822.05ZM831.30 565.60H837.80V554.20H831.30ZM840.55 566.60H847.05V556.20H840.55ZM849.80 566.60H856.30V555.20H849.80ZM859.04 572.80H865.54V564.40H859.04ZM868.29 565.60H874.79V550.00H868.29ZM877.54 568.60H884.04V553.00H877.54ZM886.79 557.40H893.29V546.80H886.79ZM896.04 566.60H902.54V551.00H896.04ZM905.28 563.40H911.78V551.00H905.28ZM914.53 560.40H921.03V546.80H914.53ZM923.78 567.60H930.28V557.40H923.78ZM933.03 567.60H939.53V554.20H933.03ZM942.28 566.60H948.78V550.00H942.28ZM951.52 564.40H958.02V551.00H951.52ZM960.77 567.60H967.27V549.00H960.77ZM970.02 568.60H976.52V544.80H970.02ZM979.27 563.40H985.77V542.60H979.27ZM988.52 575.00H995.02V555.00H988.52ZM997.76 562.40H1004.26V546.80H997.76ZM1007.01 565.60H1013.51V545.80H1007.01ZM1016.26 566.60H1022.76V540.60H1016.26ZM1025.51 565.60H1032.01V551.00H1025.51ZM1034.76 567.60H1041.26V556.20H1034.76ZM1044.00 566.60H1050.50V555.00H1044.00ZM1053.25 569.60H1059.75V559.20H1053.25ZM1062.50 561.40H1069.00V545.80H1062.50ZM1071.75 565.60H1078.25V560.40H1071.75ZM1090.24 564.40H1096.74V541.60H1090.24ZM1099.49 566.60H1105.99V555.20H1099.49ZM1108.74 552.00H1115.24V538.60H1108.74ZM1117.99 559.20H1124.49V548.00H1117.99ZM1127.24 553.00H1133.74V535.40H1127.24ZM1136.48 565.60H1142.98V544.80H1136.48ZM1145.73 568.60H1152.23V546.80H1145.73ZM1154.98 567.60H1161.48V545.80H1154.98ZM1164.23 567.60H1170.73V544.80H1164.23ZM1173.48 571.80H1179.98V549.00H1173.48ZM1182.72 571.80H1189.22V548.00H1182.72ZM1191.97 568.60H1198.47V550.00H1191.97ZM1201.22 568.60H1207.72V550.00H1201.22ZM1210.47 569.60H1216.97V554.20H1210.47ZM1228.96 568.60H1235.46V542.60H1228.96ZM1238.21 568.60H1244.71V549.00H1238.21ZM1247.46 570.80H1253.96V552.00H1247.46ZM1256.71 568.60H1263.21V549.00H1256.71ZM1265.96 568.60H1272.46V549.00H1265.96ZM1275.20 568.60H1281.70V552.00H1275.20ZM1284.45 567.60H1290.95V548.00H1284.45ZM1293.70 567.60H1300.20V549.00H1293.70ZM1302.95 568.60H1309.45V550.00H1302.95ZM1312.20 569.60H1318.70V551.00H1312.20ZM1321.44 569.60H1327.94V555.20H1321.44ZM1330.69 570.80H1337.19V549.00H1330.69ZM1339.94 569.60H1346.44V554.20H1339.94ZM1349.19 568.60H1355.69V551.00H1349.19ZM1358.44 568.60H1364.94V552.00H1358.44ZM1367.68 568.60H1374.18V549.00H1367.68ZM1376.93 568.60H1383.43V549.00H1376.93ZM1386.18 568.60H1392.68V549.00H1386.18ZM1395.43 568.60H1401.93V550.00H1395.43ZM1404.68 568.60H1411.18V550.00H1404.68ZM1413.92 568.60H1420.42V549.00H1413.92ZM1423.17 569.60H1429.67V551.00H1423.17ZM1441.67 570.80H1448.17V541.60H1441.67ZM1450.92 571.80H1457.42V556.20H1450.92ZM1460.16 571.80H1466.66V554.20H1460.16ZM1469.41 570.80H1475.91V552.00H1469.41ZM1478.66 568.60H1485.16V554.20H1478.66ZM1487.91 569.60H1494.41V546.80H1487.91ZM1497.16 567.60H1503.66V550.00H1497.16ZM1506.40 568.60H1512.90V549.00H1506.40ZM1515.65 568.60H1522.15V555.20H1515.65ZM1524.90 569.60H1531.40V548.00H1524.90ZM1534.15 568.60H1540.65V552.00H1534.15ZM1543.40 569.60H1549.90V550.00H1543.40ZM1552.64 569.60H1559.14V551.00H1552.64ZM1561.89 570.80H1568.39V553.00H1561.89ZM1571.14 571.80H1577.64V555.20H1571.14ZM1580.39 567.60H1586.89V552.00H1580.39ZM1589.64 569.60H1596.14V552.00H1589.64ZM1598.88 568.60H1605.38V550.00H1598.88ZM1608.13 568.60H1614.63V550.00H1608.13ZM1617.38 569.60H1623.88V550.00H1617.38ZM1626.63 568.60H1633.13V549.00H1626.63ZM1635.88 570.80H1642.38V553.00H1635.88ZM1645.12 568.60H1651.62V549.00H1645.12ZM1654.37 568.60H1660.87V549.00H1654.37ZM1663.62 568.60H1670.12V549.00H1663.62ZM1672.87 568.60H1679.37V549.00H1672.87ZM1682.12 568.60H1688.62V549.00H1682.12Z" fill="#036d31"/>
<path d="M202.44 545.60H208.94V544.60H202.44ZM211.68 537.20H218.18V536.20H211.68ZM220.93 534.40H227.43V530.20H220.93ZM230.18 533.20H236.68V473.00H230.18ZM239.43 550.00H245.93V492.80H239.43ZM248.68 565.60H255.18V509.40H248.68ZM257.92 507.20H264.42V454.20H257.92ZM267.17 538.40H273.67V503.00H267.17ZM276.42 551.00H282.92V539.60H276.42ZM285.67 539.60H292.17V516.80H285.67ZM294.92 557.40H301.42V519.80H294.92ZM304.16 537.40H310.66V500.00H304.16ZM313.41 526.00H319.91V477.20H313.41ZM322.66 539.60H329.16V486.40H322.66ZM331.91 550.00H338.41V507.20H331.91ZM341.16 550.00H347.66V521.00H341.16ZM350.40 539.60H356.90V521.00H350.40ZM359.65 541.60H366.15V519.80H359.65ZM368.90 537.40H375.40V514.60H368.90ZM378.15 546.80H384.65V528.20H378.15ZM387.40 556.20H393.90V545.80H387.40ZM415.14 554.20H421.64V553.00H415.14ZM452.13 539.60H458.63V509.40H452.13ZM461.38 553.00H467.88V491.60H461.38ZM470.63 562.40H477.13V506.20H470.63ZM479.88 539.60H486.38V486.40H479.88ZM489.12 544.80H495.62V501.00H489.12ZM498.37 551.00H504.87V536.40H498.37ZM507.62 553.00H514.12V539.60H507.62ZM516.87 533.20H523.37V506.20H516.87ZM526.12 542.60H532.62V505.20H526.12ZM535.36 549.00H541.86V505.20H535.36ZM544.61 510.40H551.11V458.40H544.61ZM738.82 567.60H745.32V535.40H738.82ZM748.07 540.60H754.57V484.40H748.07ZM757.32 535.40H763.82V480.20H757.32ZM766.56 542.60H773.06V522.00H766.56ZM775.81 536.40H782.31V517.80H775.81ZM785.06 543.80H791.56V516.80H785.06ZM794.31 530.20H800.81V511.60H794.31ZM803.56 533.20H810.06V518.80H803.56ZM877.54 553.00H884.04V551.00H877.54ZM886.79 546.80H893.29V490.60H886.79ZM896.04 551.00H902.54V496.80H896.04ZM905.28 551.00H911.78V492.80H905.28ZM914.53 546.80H921.03V493.80H914.53ZM923.78 557.40H930.28V526.00H923.78ZM933.03 554.20H939.53V542.60H933.03ZM942.28 550.00H948.78V529.20H942.28ZM951.52 551.00H958.02V515.60H951.52ZM960.77 549.00H967.27V508.40H960.77ZM970.02 544.80H976.52V494.80H970.02ZM979.27 542.60H985.77V489.60H979.27ZM988.52 555.00H995.02V516.80H988.52ZM997.76 546.80H1004.26V507.20H997.76ZM1007.01 545.80H1013.51V526.00H1007.01ZM1016.26 540.60H1022.76V521.00H1016.26ZM1025.51 551.00H1032.01V525.00H1025.51ZM1034.76 556.20H1041.26V537.40H1034.76ZM1044.00 555.00H1050.50V542.60H1044.00ZM1117.99 548.00H1124.49V546.80H1117.99ZM1136.48 544.80H1142.98V543.80H1136.48ZM1145.73 546.80H1152.23V506.20H1145.73ZM1154.98 545.80H1161.48V498.00H1154.98ZM1164.23 544.80H1170.73V485.40H1164.23ZM1173.48 549.00H1179.98V493.80H1173.48ZM1182.72 548.00H1189.22V486.40H1182.72ZM1191.97 550.00H1198.47V527.00H1191.97ZM1201.22 550.00H1207.72V531.20H1201.22ZM1210.47 554.20H1216.97V527.00H1210.47ZM1219.72 569.60H1226.22V551.00H1219.72ZM1228.96 542.60H1235.46V527.00H1228.96ZM1256.71 549.00H1263.21V548.00H1256.71ZM1275.20 552.00H1281.70V551.00H1275.20ZM1293.70 549.00H1300.20V548.00H1293.70ZM1302.95 550.00H1309.45V549.00H1302.95ZM1349.19 551.00H1355.69V550.00H1349.19ZM1358.44 552.00H1364.94V551.00H1358.44ZM1376.93 549.00H1383.43V548.00H1376.93ZM1404.68 550.00H1411.18V549.00H1404.68ZM1450.92 556.20H1457.42V555.20H1450.92ZM1460.16 554.20H1466.66V553.00H1460.16ZM1478.66 554.20H1485.16V553.00H1478.66ZM1515.65 555.20H1522.15V554.20H1515.65ZM1552.64 551.00H1559.14V550.00H1552.64ZM1672.87 549.00H1679.37V548.00H1672.87Z" fill="#de5a00"/>
<path d="M137.4 424.2V584.10H1698.6" fill="none" stroke="#b4b4b4" stroke-width="1"/>
<path d="M137.40 583.95v6M146.65 583.95v6M155.90 583.95v6M165.14 583.95v6M174.39 583.95v6M183.64 583.95v6M192.89 583.95v6M202.14 583.95v6M211.38 583.95v6M220.63 583.95v6M229.88 583.95v6M239.13 583.95v6M248.38 583.95v6M257.62 583.95v6M266.87 583.95v6M276.12 583.95v6M285.37 583.95v6M294.62 583.95v6M303.86 583.95v6M313.11 583.95v6M322.36 583.95v6M331.61 583.95v6M340.86 583.95v6M350.10 583.95v6M359.35 583.95v6M368.60 583.95v6M377.85 583.95v6M387.10 583.95v6M396.34 583.95v6M405.59 583.95v6M414.84 583.95v6M424.09 583.95v6M433.34 583.95v6M442.58 583.95v6M451.83 583.95v6M461.08 583.95v6M470.33 583.95v6M479.58 583.95v6M488.82 583.95v6M498.07 583.95v6M507.32 583.95v6M516.57 583.95v6M525.82 583.95v6M535.06 583.95v6M544.31 583.95v6M553.56 583.95v6M562.81 583.95v6M572.06 583.95v6M581.30 583.95v6M590.55 583.95v6M599.80 583.95v6M609.05 583.95v6M618.30 583.95v6M627.54 583.95v6M636.79 583.95v6M646.04 583.95v6M655.29 583.95v6M664.54 583.95v6M673.78 583.95v6M683.03 583.95v6M692.28 583.95v6M701.53 583.95v6M710.78 583.95v6M720.02 583.95v6M729.27 583.95v6M738.52 583.95v6M747.77 583.95v6M757.02 583.95v6M766.26 583.95v6M775.51 583.95v6M784.76 583.95v6M794.01 583.95v6M803.26 583.95v6M812.50 583.95v6M821.75 583.95v6M831.00 583.95v6M840.25 583.95v6M849.50 583.95v6M858.74 583.95v6M867.99 583.95v6M877.24 583.95v6M886.49 583.95v6M895.74 583.95v6M904.98 583.95v6M914.23 583.95v6M923.48 583.95v6M932.73 583.95v6M941.98 583.95v6M951.22 583.95v6M960.47 583.95v6M969.72 583.95v6M978.97 583.95v6M988.22 583.95v6M997.46 583.95v6M1006.71 583.95v6M1015.96 583.95v6M1025.21 583.95v6M1034.46 583.95v6M1043.70 583.95v6M1052.95 583.95v6M1062.20 583.95v6M1071.45 583.95v6M1080.70 583.95v6M1089.94 583.95v6M1099.19 583.95v6M1108.44 583.95v6M1117.69 583.95v6M1126.94 583.95v6M1136.18 583.95v6M1145.43 583.95v6M1154.68 583.95v6M1163.93 583.95v6M1173.18 583.95v6M1182.42 583.95v6M1191.67 583.95v6M1200.92 583.95v6M1210.17 583.95v6M1219.42 583.95v6M1228.66 583.95v6M1237.91 583.95v6M1247.16 583.95v6M1256.41 583.95v6M1265.66 583.95v6M1274.90 583.95v6M1284.15 583.95v6M1293.40 583.95v6M1302.65 583.95v6M1311.90 583.95v6M1321.14 583.95v6M1330.39 583.95v6M1339.64 583.95v6M1348.89 583.95v6M1358.14 583.95v6M1367.38 583.95v6M1376.63 583.95v6M1385.88 583.95v6M1395.13 583.95v6M1404.38 583.95v6M1413.62 583.95v6M1422.87 583.95v6M1432.12 583.95v6M1441.37 583.95v6M1450.62 583.95v6M1459.86 583.95v6M1469.11 583.95v6M1478.36 583.95v6M1487.61 583.95v6M1496.86 583.95v6M1506.10 583.95v6M1515.35 583.95v6M1524.60 583.95v6M1533.85 583.95v6M1543.10 583.95v6M1552.34 583.95v6M1561.59 583.95v6M1570.84 583.95v6M1580.09 583.95v6M1589.34 583.95v6M1598.58 583.95v6M1607.83 583.95v6M1617.08 583.95v6M1626.33 583.95v6M1635.58 583.95v6M1644.82 583.95v6M1654.07 583.95v6M1663.32 583.95v6M1672.57 583.95v6M1681.82 583.95v6M1691.06 583.95v6" stroke="#c0c0c0" stroke-width="1" fill="none"/>
<text x="126.9" y="590.3" font-size="14.3" fill="#222" text-anchor="end">0</text>
<text x="126.9" y="562.7" font-size="14.3" fill="#222" text-anchor="end">5</text>
<text x="126.9" y="536.2" font-size="14.3" fill="#222" text-anchor="end">10</text>
<text x="126.9" y="509.6" font-size="14.3" fill="#222" text-anchor="end">15</text>
<text x="126.9" y="483.0" font-size="14.3" fill="#222" text-anchor="end">20</text>
<text x="126.9" y="456.5" font-size="14.3" fill="#222" text-anchor="end">25</text>
<text x="126.9" y="429.9" font-size="14.3" fill="#222" text-anchor="end">30</text>
<path d="M131.4 583.60h6M131.4 557.03h6M131.4 530.47h6M131.4 503.90h6M131.4 477.33h6M131.4 450.77h6M131.4 424.20h6" stroke="#b4b4b4" stroke-width="1" fill="none"/>
<path d="M137.4 467.3H1698.6" stroke="#ff2228" stroke-width="1.35" fill="none"/>
</svg>
<div class="t" style="left:90px;top:517px;font-size:14.5px;color:#222;transform-origin:0 0;transform:rotate(-90deg)">kWh</div>
<div class="t" style="left:84.40px;top:597.33px;font-size:14.5px;color:#222;transform-origin:0 0;transform:scaleX(0.9950);">2024-03-11 01:00</div>
<div class="t" style="left:223.12px;top:597.33px;font-size:14.5px;color:#222;transform-origin:0 0;transform:scaleX(0.9950);">2024-03-11 16:00</div>
<div class="t" style="left:361.30px;top:597.33px;font-size:14.5px;color:#222;transform-origin:0 0;transform:scaleX(0.9950);">2024-03-12 07:00</div>
<div class="t" style="left:500.02px;top:597.33px;font-size:14.5px;color:#222;transform-origin:0 0;transform:scaleX(0.9950);">2024-03-12 22:00</div>
<div class="t" style="left:638.74px;top:597.33px;font-size:14.5px;color:#222;transform-origin:0 0;transform:scaleX(0.9950);">2024-03-13 13:00</div>
<div class="t" style="left:777.46px;top:597.33px;font-size:14.5px;color:#222;transform-origin:0 0;transform:scaleX(0.9950);">2024-03-14 04:00</div>
<div class="t" style="left:916.18px;top:597.33px;font-size:14.5px;color:#222;transform-origin:0 0;transform:scaleX(0.9950);">2024-03-14 19:00</div>
<div class="t" style="left:1054.90px;top:597.33px;font-size:14.5px;color:#222;transform-origin:0 0;transform:scaleX(0.9950);">2024-03-15 10:00</div>
<div class="t" style="left:1193.62px;top:597.33px;font-size:14.5px;color:#222;transform-origin:0 0;transform:scaleX(0.9950);">2024-03-16 01:00</div>
<div class="t" style="left:1332.34px;top:597.33px;font-size:14.5px;color:#222;transform-origin:0 0;transform:scaleX(0.9950);">2024-03-16 16:00</div>
<div class="t" style="left:1471.06px;top:597.33px;font-size:14.5px;color:#222;transform-origin:0 0;transform:scaleX(0.9950);">2024-03-17 07:00</div>
<div class="t" style="left:1609.78px;top:597.33px;font-size:14.5px;color:#222;transform-origin:0 0;transform:scaleX(0.9950);">2024-03-17 22:00</div>
<div class="abs" style="left:1176.5px;top:398.9px;width:10.5px;height:1.4px;background:#ff2228"></div>
<div class="t" style="left:1191.21px;top:392.23px;font-size:14.5px;color:#333;transform-origin:0 0;transform:scaleX(0.9959);">Threshold</div>
<div class="abs" style="left:1275.5px;top:393.0px;width:10.3px;height:10.3px;background:#0670c8"></div>
<div class="t" style="left:1288.76px;top:392.23px;font-size:14.5px;color:#333;transform-origin:0 0;transform:scaleX(0.9707);">( 412.0 ) HPM 600U UD</div>
<div class="abs" style="left:1443.3px;top:393.0px;width:10.3px;height:10.3px;background:#036d31"></div>
<div class="t" style="left:1456.15px;top:392.23px;font-size:14.5px;color:#333;transform-origin:0 0;transform:scaleX(0.9714);">( 413.0 ) HPM 800U UD</div>
<div class="abs" style="left:1611px;top:393.0px;width:10.3px;height:10.3px;background:#de5a00"></div>
<div class="t" style="left:1623.73px;top:392.23px;font-size:14.5px;color:#333;transform-origin:0 0;transform:scaleX(0.9958);">( 510.0 ) Härdugn</div>
<div class="btn" style="top:385px"></div>
<div class="t" style="left:1823.23px;top:396.46px;font-size:15.4px;color:#4a4a4a;transform-origin:0 0;transform:scaleX(0.9498);">Machine 1</div>
<div class="btn" style="top:434px"></div>
<div class="t" style="left:1823.22px;top:445.46px;font-size:15.4px;color:#4a4a4a;transform-origin:0 0;transform:scaleX(0.9585);">Machine 2</div>
<div class="btn" style="top:483px"></div>
<div class="t" style="left:1823.22px;top:494.46px;font-size:15.4px;color:#4a4a4a;transform-origin:0 0;transform:scaleX(0.9574);">Machine 3</div>
<div class="abs" style="left:127px;top:636px;width:261.5px;height:37.3px;background:#f1f1f1"></div>
<div class="circ" style="left:81.9px;top:639.65px"></div><svg style="left:92.9px;top:652.15px" width="12" height="8" viewBox="0 0 12 8"><path d="M1.5 6.5 L6 2 L10.5 6.5" fill="none" stroke="#333" stroke-width="1.7"/></svg>
<div class="t" style="left:141.23px;top:644.74px;font-size:23.7px;color:#444;transform-origin:0 0;transform:scaleX(1.0367);">Machine 1</div>
<div class="t" style="left:1657.75px;top:647.22px;font-size:23.6px;color:#111;transform-origin:0 0;transform:scaleX(0.9755);">619</div>
<div class="t" style="left:1705.22px;top:655.86px;font-size:13.4px;color:#111;transform-origin:0 0;transform:scaleX(1.1279);">kWh</div>
<div class="t" style="left:1745.79px;top:654.88px;font-size:15.5px;color:#222;transform-origin:0 0;transform:scaleX(1.2500);">/</div>
<div class="t" style="left:1760.81px;top:647.22px;font-size:23.6px;color:#111;transform-origin:0 0;transform:scaleX(0.9563);">13</div>
<div class="t" style="left:1794.92px;top:655.86px;font-size:13.4px;color:#111;transform-origin:0 0;transform:scaleX(1.0128);">kg (CO2e)</div>
<div class="t" style="left:1867.39px;top:654.88px;font-size:15.5px;color:#222;transform-origin:0 0;transform:scaleX(1.2500);">/</div>
<div class="t" style="left:1884.43px;top:647.22px;font-size:23.6px;color:#111;transform-origin:0 0;transform:scaleX(1.0735);">433</div>
<div class="t" style="left:1932.55px;top:655.86px;font-size:13.4px;color:#111;transform-origin:0 0;transform:scaleX(0.9197);">SEK</div>
<div class="panel" style="top:677.3px;height:234.5px"></div>
<svg style="left:0;top:0" width="2000" height="1071" viewBox="0 0 2000 1071" shape-rendering="auto">
<path d="M137.70 876.55H144.20V854.20H137.70ZM146.95 876.55H153.45V853.40H146.95ZM156.20 876.55H162.70V850.40H156.20ZM165.44 876.55H171.94V856.60H165.44ZM174.69 876.55H181.19V852.40H174.69ZM183.94 876.55H190.44V851.40H183.94ZM193.19 876.55H199.69V852.40H193.19ZM202.44 876.55H208.94V848.20H202.44ZM211.68 876.55H218.18V839.00H211.68ZM220.93 876.55H227.43V836.80H220.93ZM230.18 876.55H236.68V835.80H230.18ZM239.43 876.55H245.93V835.80H239.43ZM248.68 876.55H255.18V852.40H248.68ZM257.92 876.55H264.42V833.60H257.92ZM267.17 876.55H273.67V845.00H267.17ZM276.42 876.55H282.92V856.60H276.42ZM285.67 876.55H292.17V836.80H285.67ZM294.92 876.55H301.42V843.00H294.92ZM304.16 876.55H310.66V844.20H304.16ZM313.41 876.55H319.91V833.60H313.41ZM322.66 876.55H329.16V834.80H322.66ZM331.91 876.55H338.41V853.40H331.91ZM341.16 876.55H347.66V851.40H341.16ZM350.40 876.55H356.90V841.00H350.40ZM359.65 876.55H366.15V844.20H359.65ZM368.90 876.55H375.40V828.40H368.90ZM378.15 876.55H384.65V840.00H378.15ZM387.40 876.55H393.90V854.40H387.40ZM396.64 876.55H403.14V851.40H396.64ZM405.89 876.55H412.39V853.40H405.89ZM415.14 876.55H421.64V851.40H415.14ZM424.39 876.55H430.89V836.80H424.39ZM433.64 876.55H440.14V847.20H433.64ZM442.88 876.55H449.38V840.00H442.88ZM452.13 876.55H458.63V849.20H452.13ZM461.38 876.55H467.88V837.80H461.38ZM470.63 876.55H477.13V847.20H470.63ZM479.88 876.55H486.38V850.40H479.88ZM489.12 876.55H495.62V850.40H489.12ZM498.37 876.55H504.87V856.60H498.37ZM507.62 876.55H514.12V858.60H507.62ZM516.87 876.55H523.37V834.80H516.87ZM526.12 876.55H532.62V830.60H526.12ZM535.36 876.55H541.86V828.40H535.36ZM544.61 876.55H551.11V833.60H544.61ZM553.86 876.55H560.36V837.80H553.86ZM563.11 876.55H569.61V836.80H563.11ZM572.36 876.55H578.86V848.20H572.36ZM581.60 876.55H588.10V834.80H581.60ZM590.85 876.55H597.35V831.60H590.85ZM600.10 876.55H606.60V847.20H600.10ZM609.35 876.55H615.85V844.20H609.35ZM618.60 876.55H625.10V853.40H618.60ZM627.84 876.55H634.34V850.40H627.84ZM637.09 876.55H643.59V852.40H637.09ZM646.34 876.55H652.84V854.40H646.34ZM655.59 876.55H662.09V844.20H655.59ZM664.84 876.55H671.34V831.60H664.84ZM674.08 876.55H680.58V837.80H674.08ZM683.33 876.55H689.83V843.00H683.33ZM692.58 876.55H699.08V831.60H692.58ZM701.83 876.55H708.33V848.20H701.83ZM711.08 876.55H717.58V849.20H711.08ZM720.32 876.55H726.82V846.20H720.32ZM729.57 876.55H736.07V839.00H729.57ZM738.82 876.55H745.32V862.80H738.82ZM748.07 876.55H754.57V835.80H748.07ZM757.32 876.55H763.82V830.60H757.32ZM766.56 876.55H773.06V841.00H766.56ZM775.81 876.55H782.31V827.40H775.81ZM785.06 876.55H791.56V846.20H785.06ZM794.31 876.55H800.81V835.80H794.31ZM803.56 876.55H810.06V840.00H803.56ZM812.80 876.55H819.30V841.00H812.80ZM822.05 876.55H828.55V847.20H822.05ZM831.30 876.55H837.80V851.40H831.30ZM840.55 876.55H847.05V852.40H840.55ZM849.80 876.55H856.30V853.40H849.80ZM859.04 876.55H865.54V860.80H859.04ZM868.29 876.55H874.79V851.40H868.29ZM877.54 876.55H884.04V854.40H877.54ZM886.79 876.55H893.29V840.00H886.79ZM896.04 876.55H902.54V853.40H896.04ZM905.28 876.55H911.78V849.20H905.28ZM914.53 876.55H921.03V844.20H914.53ZM923.78 876.55H930.28V854.40H923.78ZM933.03 876.55H939.53V854.40H933.03ZM942.28 876.55H948.78V853.40H942.28ZM951.52 876.55H958.02V850.40H951.52ZM960.77 876.55H967.27V853.40H960.77ZM970.02 876.55H976.52V856.60H970.02ZM979.27 876.55H985.77V848.20H979.27ZM988.52 876.55H995.02V865.00H988.52ZM997.76 876.55H1004.26V847.20H997.76ZM1007.01 876.55H1013.51V850.40H1007.01ZM1016.26 876.55H1022.76V852.40H1016.26ZM1025.51 876.55H1032.01V851.40H1025.51ZM1034.76 876.55H1041.26V853.40H1034.76ZM1044.00 876.55H1050.50V853.40H1044.00ZM1053.25 876.55H1059.75V857.60H1053.25ZM1062.50 876.55H1069.00V846.20H1062.50ZM1071.75 876.55H1078.25V851.40H1071.75ZM1081.00 876.55H1087.50V855.60H1081.00ZM1090.24 876.55H1096.74V849.20H1090.24ZM1099.49 876.55H1105.99V852.40H1099.49ZM1108.74 876.55H1115.24V831.60H1108.74ZM1117.99 876.55H1124.49V841.00H1117.99ZM1127.24 876.55H1133.74V833.60H1127.24ZM1136.48 876.55H1142.98V851.40H1136.48ZM1145.73 876.55H1152.23V855.60H1145.73ZM1154.98 876.55H1161.48V854.40H1154.98ZM1164.23 876.55H1170.73V854.40H1164.23ZM1173.48 876.55H1179.98V860.80H1173.48ZM1182.72 876.55H1189.22V859.60H1182.72ZM1191.97 876.55H1198.47V857.60H1191.97ZM1201.22 876.55H1207.72V856.60H1201.22ZM1210.47 876.55H1216.97V857.60H1210.47ZM1219.72 876.55H1226.22V858.60H1219.72ZM1228.96 876.55H1235.46V856.60H1228.96ZM1238.21 876.55H1244.71V856.60H1238.21ZM1247.46 876.55H1253.96V859.60H1247.46ZM1256.71 876.55H1263.21V855.60H1256.71ZM1265.96 876.55H1272.46V855.60H1265.96ZM1275.20 876.55H1281.70V855.60H1275.20ZM1284.45 876.55H1290.95V855.60H1284.45ZM1293.70 876.55H1300.20V855.60H1293.70ZM1302.95 876.55H1309.45V855.60H1302.95ZM1312.20 876.55H1318.70V857.60H1312.20ZM1321.44 876.55H1327.94V857.60H1321.44ZM1330.69 876.55H1337.19V858.60H1330.69ZM1339.94 876.55H1346.44V857.60H1339.94ZM1349.19 876.55H1355.69V855.60H1349.19ZM1358.44 876.55H1364.94V855.60H1358.44ZM1367.68 876.55H1374.18V855.60H1367.68ZM1376.93 876.55H1383.43V856.60H1376.93ZM1386.18 876.55H1392.68V856.60H1386.18ZM1395.43 876.55H1401.93V856.60H1395.43ZM1404.68 876.55H1411.18V856.60H1404.68ZM1413.92 876.55H1420.42V856.60H1413.92ZM1423.17 876.55H1429.67V857.60H1423.17ZM1432.42 876.55H1438.92V855.60H1432.42ZM1441.67 876.55H1448.17V858.60H1441.67ZM1450.92 876.55H1457.42V860.80H1450.92ZM1460.16 876.55H1466.66V860.80H1460.16ZM1469.41 876.55H1475.91V858.60H1469.41ZM1478.66 876.55H1485.16V856.60H1478.66ZM1487.91 876.55H1494.41V858.60H1487.91ZM1497.16 876.55H1503.66V855.60H1497.16ZM1506.40 876.55H1512.90V856.60H1506.40ZM1515.65 876.55H1522.15V856.60H1515.65ZM1524.90 876.55H1531.40V856.60H1524.90ZM1534.15 876.55H1540.65V855.60H1534.15ZM1543.40 876.55H1549.90V857.60H1543.40ZM1552.64 876.55H1559.14V857.60H1552.64ZM1561.89 876.55H1568.39V859.60H1561.89ZM1571.14 876.55H1577.64V859.60H1571.14ZM1580.39 876.55H1586.89V854.40H1580.39ZM1589.64 876.55H1596.14V856.60H1589.64ZM1598.88 876.55H1605.38V856.60H1598.88ZM1608.13 876.55H1614.63V856.60H1608.13ZM1617.38 876.55H1623.88V857.60H1617.38ZM1626.63 876.55H1633.13V856.60H1626.63ZM1635.88 876.55H1642.38V859.60H1635.88ZM1645.12 876.55H1651.62V856.60H1645.12ZM1654.37 876.55H1660.87V856.60H1654.37ZM1663.62 876.55H1670.12V856.60H1663.62ZM1672.87 876.55H1679.37V856.60H1672.87ZM1682.12 876.55H1688.62V856.60H1682.12Z" fill="#0670c8"/>
<path d="M137.70 854.20H144.20V830.60H137.70ZM146.95 853.40H153.45V826.40H146.95ZM156.20 850.40H162.70V821.20H156.20ZM165.44 856.60H171.94V833.60H165.44ZM174.69 852.40H181.19V825.40H174.69ZM183.94 851.40H190.44V824.40H183.94ZM193.19 852.40H199.69V826.40H193.19ZM202.44 848.20H208.94V814.00H202.44ZM211.68 839.00H218.18V795.20H211.68ZM220.93 836.80H227.43V790.00H220.93ZM230.18 835.80H236.68V790.00H230.18ZM239.43 835.80H245.93V790.00H239.43ZM248.68 852.40H255.18V824.40H248.68ZM257.92 833.60H264.42V786.80H257.92ZM267.17 845.00H273.67V810.80H267.17ZM276.42 856.60H282.92V832.60H276.42ZM285.67 836.80H292.17V791.00H285.67ZM294.92 843.00H301.42V804.60H294.92ZM304.16 844.20H310.66V804.60H304.16ZM313.41 833.60H319.91V785.80H313.41ZM322.66 834.80H329.16V788.00H322.66ZM331.91 853.40H338.41V826.40H331.91ZM341.16 851.40H347.66V822.20H341.16ZM350.40 841.00H356.90V802.40H350.40ZM359.65 844.20H366.15V808.80H359.65ZM368.90 828.40H375.40V775.40H368.90ZM378.15 840.00H384.65V799.40H378.15ZM387.40 854.40H393.90V830.60H387.40ZM396.64 851.40H403.14V823.20H396.64ZM405.89 853.40H412.39V827.40H405.89ZM415.14 851.40H421.64V822.20H415.14ZM424.39 836.80H430.89V793.00H424.39ZM433.64 847.20H440.14V813.00H433.64ZM442.88 840.00H449.38V797.20H442.88ZM452.13 849.20H458.63V819.20H452.13ZM461.38 837.80H467.88V800.40H461.38ZM470.63 847.20H477.13V813.00H470.63ZM479.88 850.40H486.38V820.20H479.88ZM489.12 850.40H495.62V820.20H489.12ZM498.37 856.60H504.87V834.80H498.37ZM507.62 858.60H514.12V836.80H507.62ZM516.87 834.80H523.37V786.80H516.87ZM526.12 830.60H532.62V777.40H526.12ZM535.36 828.40H541.86V774.40H535.36ZM544.61 833.60H551.11V784.80H544.61ZM553.86 837.80H560.36V794.20H553.86ZM563.11 836.80H569.61V791.00H563.11ZM572.36 848.20H578.86V816.00H572.36ZM581.60 834.80H588.10V786.80H581.60ZM590.85 831.60H597.35V782.60H590.85ZM600.10 847.20H606.60V814.00H600.10ZM609.35 844.20H615.85V807.60H609.35ZM618.60 853.40H625.10V827.40H618.60ZM627.84 850.40H634.34V820.20H627.84ZM637.09 852.40H643.59V825.40H637.09ZM646.34 854.40H652.84V830.60H646.34ZM655.59 844.20H662.09V806.60H655.59ZM664.84 831.60H671.34V779.60H664.84ZM674.08 837.80H680.58V793.00H674.08ZM683.33 843.00H689.83V804.60H683.33ZM692.58 831.60H699.08V780.60H692.58ZM701.83 848.20H708.33V816.00H701.83ZM711.08 849.20H717.58V819.20H711.08ZM720.32 846.20H726.82V813.00H720.32ZM729.57 839.00H736.07V797.20H729.57ZM738.82 862.80H745.32V846.20H738.82ZM748.07 835.80H754.57V791.00H748.07ZM757.32 830.60H763.82V778.60H757.32ZM766.56 841.00H773.06V800.40H766.56ZM775.81 827.40H782.31V773.40H775.81ZM785.06 846.20H791.56V811.80H785.06ZM794.31 835.80H800.81V791.00H794.31ZM803.56 840.00H810.06V799.40H803.56ZM812.80 841.00H819.30V800.40H812.80ZM822.05 847.20H828.55V814.00H822.05ZM831.30 851.40H837.80V823.20H831.30ZM840.55 852.40H847.05V824.40H840.55ZM849.80 853.40H856.30V826.40H849.80ZM859.04 860.80H865.54V843.00H859.04ZM868.29 851.40H874.79V821.20H868.29ZM877.54 854.40H884.04V829.60H877.54ZM886.79 840.00H893.29V798.40H886.79ZM896.04 853.40H902.54V826.40H896.04ZM905.28 849.20H911.78V817.00H905.28ZM914.53 844.20H921.03V807.60H914.53ZM923.78 854.40H930.28V829.60H923.78ZM933.03 854.40H939.53V828.40H933.03ZM942.28 853.40H948.78V825.40H942.28ZM951.52 850.40H958.02V818.00H951.52ZM960.77 853.40H967.27V826.40H960.77ZM970.02 856.60H976.52V832.60H970.02ZM979.27 848.20H985.77V816.00H979.27ZM988.52 865.00H995.02V850.40H988.52ZM997.76 847.20H1004.26V811.80H997.76ZM1007.01 850.40H1013.51V820.20H1007.01ZM1016.26 852.40H1022.76V823.20H1016.26ZM1025.51 851.40H1032.01V822.20H1025.51ZM1034.76 853.40H1041.26V827.40H1034.76ZM1044.00 853.40H1050.50V825.40H1044.00ZM1053.25 857.60H1059.75V834.80H1053.25ZM1062.50 846.20H1069.00V809.80H1062.50ZM1071.75 851.40H1078.25V821.20H1071.75ZM1081.00 855.60H1087.50V831.60H1081.00ZM1090.24 849.20H1096.74V818.00H1090.24ZM1099.49 852.40H1105.99V824.40H1099.49ZM1108.74 831.60H1115.24V781.60H1108.74ZM1117.99 841.00H1124.49V801.40H1117.99ZM1127.24 833.60H1133.74V785.80H1127.24ZM1136.48 851.40H1142.98V823.20H1136.48ZM1145.73 855.60H1152.23V832.60H1145.73ZM1154.98 854.40H1161.48V829.60H1154.98ZM1164.23 854.40H1170.73V829.60H1164.23ZM1173.48 860.80H1179.98V843.00H1173.48ZM1182.72 859.60H1189.22V840.00H1182.72ZM1191.97 857.60H1198.47V833.60H1191.97ZM1201.22 856.60H1207.72V832.60H1201.22ZM1210.47 857.60H1216.97V834.80H1210.47ZM1219.72 858.60H1226.22V835.80H1219.72ZM1228.96 856.60H1235.46V832.60H1228.96ZM1238.21 856.60H1244.71V832.60H1238.21ZM1247.46 859.60H1253.96V840.00H1247.46ZM1256.71 855.60H1263.21V830.60H1256.71ZM1265.96 855.60H1272.46V831.60H1265.96ZM1275.20 855.60H1281.70V831.60H1275.20ZM1284.45 855.60H1290.95V830.60H1284.45ZM1293.70 855.60H1300.20V830.60H1293.70ZM1302.95 855.60H1309.45V831.60H1302.95ZM1312.20 857.60H1318.70V835.80H1312.20ZM1321.44 857.60H1327.94V835.80H1321.44ZM1330.69 858.60H1337.19V836.80H1330.69ZM1339.94 857.60H1346.44V834.80H1339.94ZM1349.19 855.60H1355.69V831.60H1349.19ZM1358.44 855.60H1364.94V830.60H1358.44ZM1367.68 855.60H1374.18V830.60H1367.68ZM1376.93 856.60H1383.43V832.60H1376.93ZM1386.18 856.60H1392.68V832.60H1386.18ZM1395.43 856.60H1401.93V831.60H1395.43ZM1404.68 856.60H1411.18V832.60H1404.68ZM1413.92 856.60H1420.42V831.60H1413.92ZM1423.17 857.60H1429.67V833.60H1423.17ZM1432.42 855.60H1438.92V830.60H1432.42ZM1441.67 858.60H1448.17V836.80H1441.67ZM1450.92 860.80H1457.42V842.00H1450.92ZM1460.16 860.80H1466.66V842.00H1460.16ZM1469.41 858.60H1475.91V837.80H1469.41ZM1478.66 856.60H1485.16V831.60H1478.66ZM1487.91 858.60H1494.41V836.80H1487.91ZM1497.16 855.60H1503.66V829.60H1497.16ZM1506.40 856.60H1512.90V832.60H1506.40ZM1515.65 856.60H1522.15V832.60H1515.65ZM1524.90 856.60H1531.40V833.60H1524.90ZM1534.15 855.60H1540.65V831.60H1534.15ZM1543.40 857.60H1549.90V834.80H1543.40ZM1552.64 857.60H1559.14V835.80H1552.64ZM1561.89 859.60H1568.39V839.00H1561.89ZM1571.14 859.60H1577.64V840.00H1571.14ZM1580.39 854.40H1586.89V827.40H1580.39ZM1589.64 856.60H1596.14V835.80H1589.64ZM1598.88 856.60H1605.38V832.60H1598.88ZM1608.13 856.60H1614.63V832.60H1608.13ZM1617.38 857.60H1623.88V834.80H1617.38ZM1626.63 856.60H1633.13V832.60H1626.63ZM1635.88 859.60H1642.38V839.00H1635.88ZM1645.12 856.60H1651.62V831.60H1645.12ZM1654.37 856.60H1660.87V831.60H1654.37ZM1663.62 856.60H1670.12V831.60H1663.62ZM1672.87 856.60H1679.37V831.60H1672.87ZM1682.12 856.60H1688.62V833.60H1682.12Z" fill="#036d31"/>
<path d="M137.70 830.60H144.20V809.80H137.70ZM146.95 826.40H153.45V804.60H146.95ZM156.20 821.20H162.70V797.20H156.20ZM165.44 833.60H171.94V814.00H165.44ZM174.69 825.40H181.19V803.60H174.69ZM183.94 824.40H190.44V800.40H183.94ZM193.19 826.40H199.69V803.60H193.19ZM202.44 814.00H208.94V785.80H202.44ZM211.68 795.20H218.18V759.80H211.68ZM220.93 790.00H227.43V753.60H220.93ZM230.18 790.00H236.68V749.40H230.18ZM239.43 790.00H245.93V748.40H239.43ZM248.68 824.40H255.18V799.40H248.68ZM257.92 786.80H264.42V745.20H257.92ZM267.17 810.80H273.67V779.60H267.17ZM276.42 832.60H282.92V814.00H276.42ZM285.67 791.00H292.17V753.60H285.67ZM294.92 804.60H301.42V773.40H294.92ZM304.16 804.60H310.66V774.40H304.16ZM313.41 785.80H319.91V746.20H313.41ZM322.66 788.00H329.16V749.40H322.66ZM331.91 826.40H338.41V804.60H331.91ZM341.16 822.20H347.66V798.40H341.16ZM350.40 802.40H356.90V771.20H350.40ZM359.65 808.80H366.15V779.60H359.65ZM368.90 775.40H375.40V732.60H368.90ZM378.15 799.40H384.65V766.00H378.15ZM387.40 830.60H393.90V810.80H387.40ZM396.64 823.20H403.14V801.40H396.64ZM405.89 827.40H412.39V806.60H405.89ZM415.14 822.20H421.64V797.20H415.14ZM424.39 793.00H430.89V756.60H424.39ZM433.64 813.00H440.14V785.80H433.64ZM442.88 797.20H449.38V761.80H442.88ZM452.13 819.20H458.63V793.00H452.13ZM461.38 800.40H467.88V767.00H461.38ZM470.63 813.00H477.13V782.60H470.63ZM479.88 820.20H486.38V793.00H479.88ZM489.12 820.20H495.62V793.00H489.12ZM498.37 834.80H504.87V816.00H498.37ZM507.62 836.80H514.12V818.20H507.62ZM516.87 786.80H523.37V747.20H516.87ZM526.12 777.40H532.62V733.60H526.12ZM535.36 774.40H541.86V727.40H535.36ZM544.61 784.80H551.11V743.00H544.61ZM553.86 794.20H560.36V755.60H553.86ZM563.11 791.00H569.61V754.60H563.11ZM572.36 816.00H578.86V790.00H572.36ZM581.60 786.80H588.10V748.20H581.60ZM590.85 782.60H597.35V741.00H590.85ZM600.10 814.00H606.60V786.80H600.10ZM609.35 807.60H615.85V777.40H609.35ZM618.60 827.40H625.10V805.60H618.60ZM627.84 820.20H634.34V795.20H627.84ZM637.09 825.40H643.59V801.40H637.09ZM646.34 830.60H652.84V809.80H646.34ZM655.59 806.60H662.09V777.40H655.59ZM664.84 779.60H671.34V736.80H664.84ZM674.08 793.00H680.58V755.60H674.08ZM683.33 804.60H689.83V772.20H683.33ZM692.58 780.60H699.08V737.80H692.58ZM701.83 816.00H708.33V789.00H701.83ZM711.08 819.20H717.58V794.20H711.08ZM720.32 813.00H726.82V783.80H720.32ZM729.57 797.20H736.07V760.80H729.57ZM738.82 846.20H745.32V831.60H738.82ZM748.07 791.00H754.57V752.40H748.07ZM757.32 778.60H763.82V735.80H757.32ZM766.56 800.40H773.06V769.20H766.56ZM775.81 773.40H782.31V740.00H775.81ZM785.06 811.80H791.56V784.80H785.06ZM794.31 791.00H800.81V754.60H794.31ZM803.56 799.40H810.06V765.00H803.56ZM812.80 800.40H819.30V766.00H812.80ZM822.05 814.00H828.55V785.80H822.05ZM831.30 823.20H837.80V799.40H831.30ZM840.55 824.40H847.05V801.40H840.55ZM849.80 826.40H856.30V803.60H849.80ZM859.04 843.00H865.54V828.40H859.04ZM868.29 821.20H874.79V797.20H868.29ZM877.54 829.60H884.04V809.80H877.54ZM886.79 798.40H893.29V762.80H886.79ZM896.04 826.40H902.54V802.40H896.04ZM905.28 817.00H911.78V789.00H905.28ZM914.53 807.60H921.03V774.40H914.53ZM923.78 829.60H930.28V807.60H923.78ZM933.03 828.40H939.53V807.60H933.03ZM942.28 825.40H948.78V802.40H942.28ZM951.52 818.00H958.02V791.00H951.52ZM960.77 826.40H967.27V803.60H960.77ZM970.02 832.60H976.52V811.80H970.02ZM979.27 816.00H985.77V786.80H979.27ZM988.52 850.40H995.02V837.80H988.52ZM997.76 811.80H1004.26V783.80H997.76ZM1007.01 820.20H1013.51V795.20H1007.01ZM1016.26 823.20H1022.76V799.40H1016.26ZM1025.51 822.20H1032.01V797.20H1025.51ZM1034.76 827.40H1041.26V804.60H1034.76ZM1044.00 825.40H1050.50V802.40H1044.00ZM1053.25 834.80H1059.75V816.00H1053.25ZM1062.50 809.80H1069.00V779.60H1062.50ZM1071.75 821.20H1078.25V796.20H1071.75ZM1081.00 831.60H1087.50V809.80H1081.00ZM1090.24 818.00H1096.74V791.00H1090.24ZM1099.49 824.40H1105.99V801.40H1099.49ZM1108.74 781.60H1115.24V740.00H1108.74ZM1117.99 801.40H1124.49V769.20H1117.99ZM1127.24 785.80H1133.74V744.20H1127.24ZM1136.48 823.20H1142.98V799.40H1136.48ZM1145.73 832.60H1152.23V811.80H1145.73ZM1154.98 829.60H1161.48V805.60H1154.98ZM1164.23 829.60H1170.73V807.60H1164.23ZM1173.48 843.00H1179.98V825.40H1173.48ZM1182.72 840.00H1189.22V822.20H1182.72ZM1191.97 833.60H1198.47V813.00H1191.97ZM1201.22 832.60H1207.72V810.80H1201.22ZM1210.47 834.80H1216.97V814.00H1210.47ZM1219.72 835.80H1226.22V816.00H1219.72ZM1228.96 832.60H1235.46V810.80H1228.96ZM1238.21 832.60H1244.71V810.80H1238.21ZM1247.46 840.00H1253.96V821.20H1247.46ZM1256.71 830.60H1263.21V808.80H1256.71ZM1265.96 831.60H1272.46V808.80H1265.96ZM1275.20 831.60H1281.70V809.80H1275.20ZM1284.45 830.60H1290.95V807.60H1284.45ZM1293.70 830.60H1300.20V807.60H1293.70ZM1302.95 831.60H1309.45V808.80H1302.95ZM1312.20 835.80H1318.70V815.00H1312.20ZM1321.44 835.80H1327.94V816.00H1321.44ZM1330.69 836.80H1337.19V817.00H1330.69ZM1339.94 834.80H1346.44V814.00H1339.94ZM1349.19 831.60H1355.69V808.80H1349.19ZM1358.44 830.60H1364.94V808.80H1358.44ZM1367.68 830.60H1374.18V808.80H1367.68ZM1376.93 832.60H1383.43V811.80H1376.93ZM1386.18 832.60H1392.68V811.80H1386.18ZM1395.43 831.60H1401.93V810.80H1395.43ZM1404.68 832.60H1411.18V810.80H1404.68ZM1413.92 831.60H1420.42V810.80H1413.92ZM1423.17 833.60H1429.67V813.00H1423.17ZM1432.42 830.60H1438.92V808.80H1432.42ZM1441.67 836.80H1448.17V818.20H1441.67ZM1450.92 842.00H1457.42V825.40H1450.92ZM1460.16 842.00H1466.66V824.40H1460.16ZM1469.41 837.80H1475.91V819.20H1469.41ZM1478.66 831.60H1485.16V810.80H1478.66ZM1487.91 836.80H1494.41V817.00H1487.91ZM1497.16 829.60H1503.66V806.60H1497.16ZM1506.40 832.60H1512.90V810.80H1506.40ZM1515.65 832.60H1522.15V810.80H1515.65ZM1524.90 833.60H1531.40V813.00H1524.90ZM1534.15 831.60H1540.65V810.80H1534.15ZM1543.40 834.80H1549.90V814.00H1543.40ZM1552.64 835.80H1559.14V816.00H1552.64ZM1561.89 839.00H1568.39V821.20H1561.89ZM1571.14 840.00H1577.64V822.20H1571.14ZM1580.39 827.40H1586.89V804.60H1580.39ZM1589.64 835.80H1596.14V815.00H1589.64ZM1598.88 832.60H1605.38V810.80H1598.88ZM1608.13 832.60H1614.63V811.80H1608.13ZM1617.38 834.80H1623.88V814.00H1617.38ZM1626.63 832.60H1633.13V811.80H1626.63ZM1635.88 839.00H1642.38V821.20H1635.88ZM1645.12 831.60H1651.62V810.80H1645.12ZM1654.37 831.60H1660.87V810.80H1654.37ZM1663.62 831.60H1670.12V810.80H1663.62ZM1672.87 831.60H1679.37V810.80H1672.87ZM1682.12 833.60H1688.62V813.00H1682.12Z" fill="#de5a00"/>
<path d="M137.4 717.4V876.70H1698.6" fill="none" stroke="#b4b4b4" stroke-width="1"/>
<path d="M137.40 876.55v6M146.65 876.55v6M155.90 876.55v6M165.14 876.55v6M174.39 876.55v6M183.64 876.55v6M192.89 876.55v6M202.14 876.55v6M211.38 876.55v6M220.63 876.55v6M229.88 876.55v6M239.13 876.55v6M248.38 876.55v6M257.62 876.55v6M266.87 876.55v6M276.12 876.55v6M285.37 876.55v6M294.62 876.55v6M303.86 876.55v6M313.11 876.55v6M322.36 876.55v6M331.61 876.55v6M340.86 876.55v6M350.10 876.55v6M359.35 876.55v6M368.60 876.55v6M377.85 876.55v6M387.10 876.55v6M396.34 876.55v6M405.59 876.55v6M414.84 876.55v6M424.09 876.55v6M433.34 876.55v6M442.58 876.55v6M451.83 876.55v6M461.08 876.55v6M470.33 876.55v6M479.58 876.55v6M488.82 876.55v6M498.07 876.55v6M507.32 876.55v6M516.57 876.55v6M525.82 876.55v6M535.06 876.55v6M544.31 876.55v6M553.56 876.55v6M562.81 876.55v6M572.06 876.55v6M581.30 876.55v6M590.55 876.55v6M599.80 876.55v6M609.05 876.55v6M618.30 876.55v6M627.54 876.55v6M636.79 876.55v6M646.04 876.55v6M655.29 876.55v6M664.54 876.55v6M673.78 876.55v6M683.03 876.55v6M692.28 876.55v6M701.53 876.55v6M710.78 876.55v6M720.02 876.55v6M729.27 876.55v6M738.52 876.55v6M747.77 876.55v6M757.02 876.55v6M766.26 876.55v6M775.51 876.55v6M784.76 876.55v6M794.01 876.55v6M803.26 876.55v6M812.50 876.55v6M821.75 876.55v6M831.00 876.55v6M840.25 876.55v6M849.50 876.55v6M858.74 876.55v6M867.99 876.55v6M877.24 876.55v6M886.49 876.55v6M895.74 876.55v6M904.98 876.55v6M914.23 876.55v6M923.48 876.55v6M932.73 876.55v6M941.98 876.55v6M951.22 876.55v6M960.47 876.55v6M969.72 876.55v6M978.97 876.55v6M988.22 876.55v6M997.46 876.55v6M1006.71 876.55v6M1015.96 876.55v6M1025.21 876.55v6M1034.46 876.55v6M1043.70 876.55v6M1052.95 876.55v6M1062.20 876.55v6M1071.45 876.55v6M1080.70 876.55v6M1089.94 876.55v6M1099.19 876.55v6M1108.44 876.55v6M1117.69 876.55v6M1126.94 876.55v6M1136.18 876.55v6M1145.43 876.55v6M1154.68 876.55v6M1163.93 876.55v6M1173.18 876.55v6M1182.42 876.55v6M1191.67 876.55v6M1200.92 876.55v6M1210.17 876.55v6M1219.42 876.55v6M1228.66 876.55v6M1237.91 876.55v6M1247.16 876.55v6M1256.41 876.55v6M1265.66 876.55v6M1274.90 876.55v6M1284.15 876.55v6M1293.40 876.55v6M1302.65 876.55v6M1311.90 876.55v6M1321.14 876.55v6M1330.39 876.55v6M1339.64 876.55v6M1348.89 876.55v6M1358.14 876.55v6M1367.38 876.55v6M1376.63 876.55v6M1385.88 876.55v6M1395.13 876.55v6M1404.38 876.55v6M1413.62 876.55v6M1422.87 876.55v6M1432.12 876.55v6M1441.37 876.55v6M1450.62 876.55v6M1459.86 876.55v6M1469.11 876.55v6M1478.36 876.55v6M1487.61 876.55v6M1496.86 876.55v6M1506.10 876.55v6M1515.35 876.55v6M1524.60 876.55v6M1533.85 876.55v6M1543.10 876.55v6M1552.34 876.55v6M1561.59 876.55v6M1570.84 876.55v6M1580.09 876.55v6M1589.34 876.55v6M1598.58 876.55v6M1607.83 876.55v6M1617.08 876.55v6M1626.33 876.55v6M1635.58 876.55v6M1644.82 876.55v6M1654.07 876.55v6M1663.32 876.55v6M1672.57 876.55v6M1681.82 876.55v6M1691.06 876.55v6" stroke="#c0c0c0" stroke-width="1" fill="none"/>
<text x="126.9" y="882.9" font-size="14.3" fill="#222" text-anchor="end">0</text>
<text x="126.9" y="859.2" font-size="14.3" fill="#222" text-anchor="end">1</text>
<text x="126.9" y="836.5" font-size="14.3" fill="#222" text-anchor="end">2</text>
<text x="126.9" y="813.8" font-size="14.3" fill="#222" text-anchor="end">3</text>
<text x="126.9" y="791.2" font-size="14.3" fill="#222" text-anchor="end">4</text>
<text x="126.9" y="768.5" font-size="14.3" fill="#222" text-anchor="end">5</text>
<text x="126.9" y="745.8" font-size="14.3" fill="#222" text-anchor="end">6</text>
<text x="126.9" y="723.1" font-size="14.3" fill="#222" text-anchor="end">7</text>
<path d="M131.4 876.20h6M131.4 853.51h6M131.4 830.83h6M131.4 808.14h6M131.4 785.46h6M131.4 762.77h6M131.4 740.09h6M131.4 717.40h6" stroke="#b4b4b4" stroke-width="1" fill="none"/>
</svg>
<div class="t" style="left:98px;top:810px;font-size:14.5px;color:#222;transform-origin:0 0;transform:rotate(-90deg)">kWh</div>
<div class="t" style="left:84.40px;top:890.33px;font-size:14.5px;color:#222;transform-origin:0 0;transform:scaleX(0.9950);">2024-03-11 01:00</div>
<div class="t" style="left:223.12px;top:890.33px;font-size:14.5px;color:#222;transform-origin:0 0;transform:scaleX(0.9950);">2024-03-11 16:00</div>
<div class="t" style="left:361.30px;top:890.33px;font-size:14.5px;color:#222;transform-origin:0 0;transform:scaleX(0.9950);">2024-03-12 07:00</div>
<div class="t" style="left:500.02px;top:890.33px;font-size:14.5px;color:#222;transform-origin:0 0;transform:scaleX(0.9950);">2024-03-12 22:00</div>
<div class="t" style="left:638.74px;top:890.33px;font-size:14.5px;color:#222;transform-origin:0 0;transform:scaleX(0.9950);">2024-03-13 13:00</div>
<div class="t" style="left:777.46px;top:890.33px;font-size:14.5px;color:#222;transform-origin:0 0;transform:scaleX(0.9950);">2024-03-14 04:00</div>
<div class="t" style="left:916.18px;top:890.33px;font-size:14.5px;color:#222;transform-origin:0 0;transform:scaleX(0.9950);">2024-03-14 19:00</div>
<div class="t" style="left:1054.90px;top:890.33px;font-size:14.5px;color:#222;transform-origin:0 0;transform:scaleX(0.9950);">2024-03-15 10:00</div>
<div class="t" style="left:1193.62px;top:890.33px;font-size:14.5px;color:#222;transform-origin:0 0;transform:scaleX(0.9950);">2024-03-16 01:00</div>
<div class="t" style="left:1332.34px;top:890.33px;font-size:14.5px;color:#222;transform-origin:0 0;transform:scaleX(0.9950);">2024-03-16 16:00</div>
<div class="t" style="left:1471.06px;top:890.33px;font-size:14.5px;color:#222;transform-origin:0 0;transform:scaleX(0.9950);">2024-03-17 07:00</div>
<div class="t" style="left:1609.78px;top:890.33px;font-size:14.5px;color:#222;transform-origin:0 0;transform:scaleX(0.9950);">2024-03-17 22:00</div>
<div class="abs" style="left:1306.9px;top:691.6px;width:10.5px;height:1.4px;background:#ff2228"></div>
<div class="t" style="left:1321.72px;top:684.93px;font-size:14.5px;color:#333;transform-origin:0 0;transform:scaleX(0.9754);">Threshold</div>
<div class="abs" style="left:1406px;top:685.7px;width:10.3px;height:10.3px;background:#0670c8"></div>
<div class="t" style="left:1418.87px;top:684.93px;font-size:14.5px;color:#333;transform-origin:0 0;transform:scaleX(0.9741);">HPM 600 fas 2</div>
<div class="abs" style="left:1517.5px;top:685.7px;width:10.3px;height:10.3px;background:#036d31"></div>
<div class="t" style="left:1530.36px;top:684.93px;font-size:14.5px;color:#333;transform-origin:0 0;transform:scaleX(0.9798);">HPM 600 fas 3</div>
<div class="abs" style="left:1630px;top:685.7px;width:10.3px;height:10.3px;background:#de5a00"></div>
<div class="t" style="left:1642.47px;top:684.93px;font-size:14.5px;color:#333;transform-origin:0 0;transform:scaleX(0.9699);">HPM 600 fas 1</div>
<div class="btn" style="top:677.6px"></div>
<div class="t" style="left:1831.92px;top:689.06px;font-size:15.4px;color:#4a4a4a;transform-origin:0 0;transform:scaleX(0.8805);">Phase 1</div>
<div class="btn" style="top:726.6px"></div>
<div class="t" style="left:1831.88px;top:738.06px;font-size:15.4px;color:#4a4a4a;transform-origin:0 0;transform:scaleX(0.9080);">Phase 2</div>
<div class="btn" style="top:775.6px"></div>
<div class="t" style="left:1831.88px;top:787.06px;font-size:15.4px;color:#4a4a4a;transform-origin:0 0;transform:scaleX(0.9067);">Phase 3</div>
<div class="abs" style="left:122px;top:912px;width:1591.3px;height:78.5px;background:#fafafa;box-shadow:0 1px 3px rgba(0,0,0,.3)"></div>
<div class="abs" style="left:122.0px;top:912px;width:227.3px;height:78.5px;background:#fafafa"></div>
<div class="abs" style="left:122.0px;top:912px;width:227.3px;height:3.6px;background:#e1e1e1"></div>
<div class="t" style="left:160.32px;top:923.00px;font-size:14.3px;color:#333;transform-origin:0 0;transform:scaleX(1.0007);">måndag, mars 11, 2024</div>
<div class="abs" style="left:349.3px;top:912px;width:227.3px;height:78.5px;background:#f4f4f4"></div>
<div class="abs" style="left:350.8px;top:912px;width:225.8px;height:3.6px;background:#e1e1e1"></div>
<div class="t" style="left:394.79px;top:923.00px;font-size:14.3px;color:#333;transform-origin:0 0;transform:scaleX(0.9899);">tisdag, mars 12, 2024</div>
<div class="abs" style="left:576.7px;top:912px;width:227.3px;height:78.5px;background:#fafafa"></div>
<div class="abs" style="left:578.2px;top:912px;width:225.8px;height:3.6px;background:#e1e1e1"></div>
<div class="t" style="left:617.43px;top:923.00px;font-size:14.3px;color:#333;transform-origin:0 0;transform:scaleX(0.9911);">onsdag, mars 13, 2024</div>
<div class="abs" style="left:804.0px;top:912px;width:227.3px;height:78.5px;background:#f4f4f4"></div>
<div class="abs" style="left:805.5px;top:912px;width:225.8px;height:3.6px;background:#e1e1e1"></div>
<div class="t" style="left:844.04px;top:923.00px;font-size:14.3px;color:#333;transform-origin:0 0;transform:scaleX(0.9953);">torsdag, mars 14, 2024</div>
<div class="abs" style="left:1031.3px;top:912px;width:227.3px;height:78.5px;background:#fafafa"></div>
<div class="abs" style="left:1032.8px;top:912px;width:225.8px;height:3.6px;background:#e1e1e1"></div>
<div class="t" style="left:1075.32px;top:923.00px;font-size:14.3px;color:#333;transform-origin:0 0;transform:scaleX(0.9887);">fredag, mars 15, 2024</div>
<div class="abs" style="left:1258.6px;top:912px;width:227.3px;height:78.5px;background:#f4f4f4"></div>
<div class="abs" style="left:1260.1px;top:912px;width:225.8px;height:3.6px;background:#e1e1e1"></div>
<div class="t" style="left:1301.57px;top:923.00px;font-size:14.3px;color:#333;transform-origin:0 0;transform:scaleX(1.0016);">lördag, mars 16, 2024</div>
<div class="abs" style="left:1486.0px;top:912px;width:227.3px;height:78.5px;background:#fafafa"></div>
<div class="abs" style="left:1487.5px;top:912px;width:225.8px;height:3.6px;background:#e1e1e1"></div>
<div class="t" style="left:1526.11px;top:923.00px;font-size:14.3px;color:#333;transform-origin:0 0;transform:scaleX(0.9968);">söndag, mars 17, 2024</div>
<div class="abs" style="left:122px;top:957.5px;width:1591.3px;height:24.5px;background:#fdfdfd"></div>
<svg style="left:0;top:0" width="2000" height="1071" viewBox="0 0 2000 1071">
<path d="M122 957.5H183V982H122Z" fill="#777777"/>
<path d="M183 957.5H191.75V982H183ZM247 957.5H256.25V982H247ZM258 957.5H260V982H258ZM272 957.5H280V982H272ZM290.75 957.5H296.75V982H290.75ZM367 957.5H414.5V982H367ZM421 957.5H439.75V982H421ZM449.5 957.5H470V982H449.5ZM472.5 957.5H482.5V982H472.5ZM510 957.5H514.5V982H510ZM546.25 957.5H551.25V982H546.25ZM565 957.5H566.3V982H565ZM568.3 957.5H569.5V982H568.3ZM572.5 957.5H578V982H572.5ZM649.5 957.5H657.5V982H649.5ZM659 957.5H668V982H659ZM676.5 957.5H682V982H676.5ZM686 957.5H691V982H686ZM694 957.5H697V982H694ZM709 957.5H731.25V982H709ZM774.5 957.5H777V982H774.5ZM786 957.5H793V982H786ZM798.5 957.5H803V982H798.5ZM824.5 957.5H865V982H824.5ZM866.25 957.5H888V982H866.25ZM890 957.5H896.25V982H890ZM905.5 957.5H915V982H905.5ZM916.25 957.5H924.25V982H916.25ZM965 957.5H969V982H965ZM971.5 957.5H979.5V982H971.5ZM995.5 957.5H1005V982H995.5ZM1010 957.5H1100V982H1010ZM1111.5 957.5H1120V982H1111.5ZM1126.5 957.5H1131V982H1126.5ZM1134 957.5H1138V982H1134Z" fill="#a9a9a9"/>
<path d="M191.75 957.5H243V982H191.75ZM244.5 957.5H246V982H244.5ZM260.5 957.5H267.5V982H260.5ZM269 957.5H272V982H269ZM280 957.5H285.5V982H280ZM439.75 957.5H449.5V982H439.75ZM470 957.5H471V982H470ZM482.5 957.5H508V982H482.5ZM668 957.5H676.5V982H668ZM682 957.5H684V982H682ZM691 957.5H692.5V982H691ZM697 957.5H707.5V982H697ZM888 957.5H890V982H888ZM896.25 957.5H905.5V982H896.25ZM924.25 957.5H937.5V982H924.25ZM939 957.5H963V982H939ZM981.5 957.5H989.5V982H981.5ZM1101.5 957.5H1110V982H1101.5ZM1120 957.5H1125V982H1120ZM1131 957.5H1134V982H1131ZM1138 957.5H1258V982H1138ZM1259 957.5H1713.3V982H1259Z" fill="#d2232a"/>
<path d="M285.5 957.5H289.5V982H285.5ZM296.75 957.5H340.75V982H296.75ZM342 957.5H367V982H342ZM415 957.5H421V982H415ZM508 957.5H509V982H508ZM514.5 957.5H532.5V982H514.5ZM533.75 957.5H546.25V982H533.75ZM552.5 957.5H565V982H552.5ZM566.8 957.5H567.8V982H566.8ZM570 957.5H571V982H570ZM578 957.5H583V982H578ZM584.5 957.5H588.75V982H584.5ZM590 957.5H649.5V982H590ZM692.5 957.5H694V982H692.5ZM732.75 957.5H743V982H732.75ZM744.25 957.5H750V982H744.25ZM751.5 957.5H757.5V982H751.5ZM758.75 957.5H763V982H758.75ZM764 957.5H770V982H764ZM771.25 957.5H774.5V982H771.25ZM778.5 957.5H785V982H778.5ZM793 957.5H798.5V982H793ZM804.5 957.5H824.5V982H804.5ZM963 957.5H965V982H963ZM970 957.5H971V982H970ZM979.5 957.5H981.5V982H979.5ZM991 957.5H995V982H991ZM1005 957.5H1006.5V982H1005ZM1007.7 957.5H1010V982H1007.7Z" fill="#008000"/>
</svg>
<div class="abs" style="left:127px;top:1015px;width:261.5px;height:37.3px;background:#f1f1f1"></div>
<div class="circ" style="left:81.9px;top:1015.8499999999999px"></div><svg style="left:92.9px;top:1028.35px" width="12" height="8" viewBox="0 0 12 8"><path d="M1.5 6.5 L6 2 L10.5 6.5" fill="none" stroke="#333" stroke-width="1.7"/></svg>
<div class="t" style="left:141.16px;top:1024.24px;font-size:23.7px;color:#444;transform-origin:0 0;transform:scaleX(1.0734);">Machine 2</div>
<div class="t" style="left:1664.41px;top:1023.47px;font-size:23.6px;color:#111;transform-origin:0 0;transform:scaleX(1.0536);">529</div>
<div class="t" style="left:1714.61px;top:1032.11px;font-size:13.4px;color:#111;transform-origin:0 0;transform:scaleX(1.1358);">kWh</div>
<div class="t" style="left:1755.39px;top:1031.13px;font-size:15.5px;color:#222;transform-origin:0 0;transform:scaleX(1.2500);">/</div>
<div class="t" style="left:1771.05px;top:1023.47px;font-size:23.6px;color:#111;transform-origin:0 0;transform:scaleX(0.8197);">11</div>
<div class="t" style="left:1800.11px;top:1032.11px;font-size:13.4px;color:#111;transform-origin:0 0;transform:scaleX(1.0186);">kg (CO2e)</div>
<div class="t" style="left:1872.99px;top:1031.13px;font-size:15.5px;color:#222;transform-origin:0 0;transform:scaleX(1.2500);">/</div>
<div class="t" style="left:1889.80px;top:1023.47px;font-size:23.6px;color:#111;transform-origin:0 0;transform:scaleX(0.9050);">371</div>
<div class="t" style="left:1932.04px;top:1032.11px;font-size:13.4px;color:#111;transform-origin:0 0;transform:scaleX(0.9254);">SEK</div>
<div class="abs" style="left:80.2px;top:1053.5px;width:1674.8px;height:4.9px;background:#fff"></div>
<div class="abs" style="left:1764.6px;top:1054.5px;width:190px;height:3.9px;background:#f8f8f8;box-shadow:0 0 1px rgba(0,0,0,.15)"></div>
<div class="abs" style="left:1969px;top:354px;width:13px;height:348px;background:#dedede"></div>
<svg style="left:1972.1px;top:343.9px" width="7" height="5.4" viewBox="0 0 8 6"><path d="M0 5.5 L4 0.5 L8 5.5Z" fill="#111"/></svg>
<svg style="left:1972px;top:1047.6px" width="7" height="5.4" viewBox="0 0 8 6"><path d="M0 0.5 L4 5.5 L8 0.5Z" fill="#111"/></svg>
</body></html>
